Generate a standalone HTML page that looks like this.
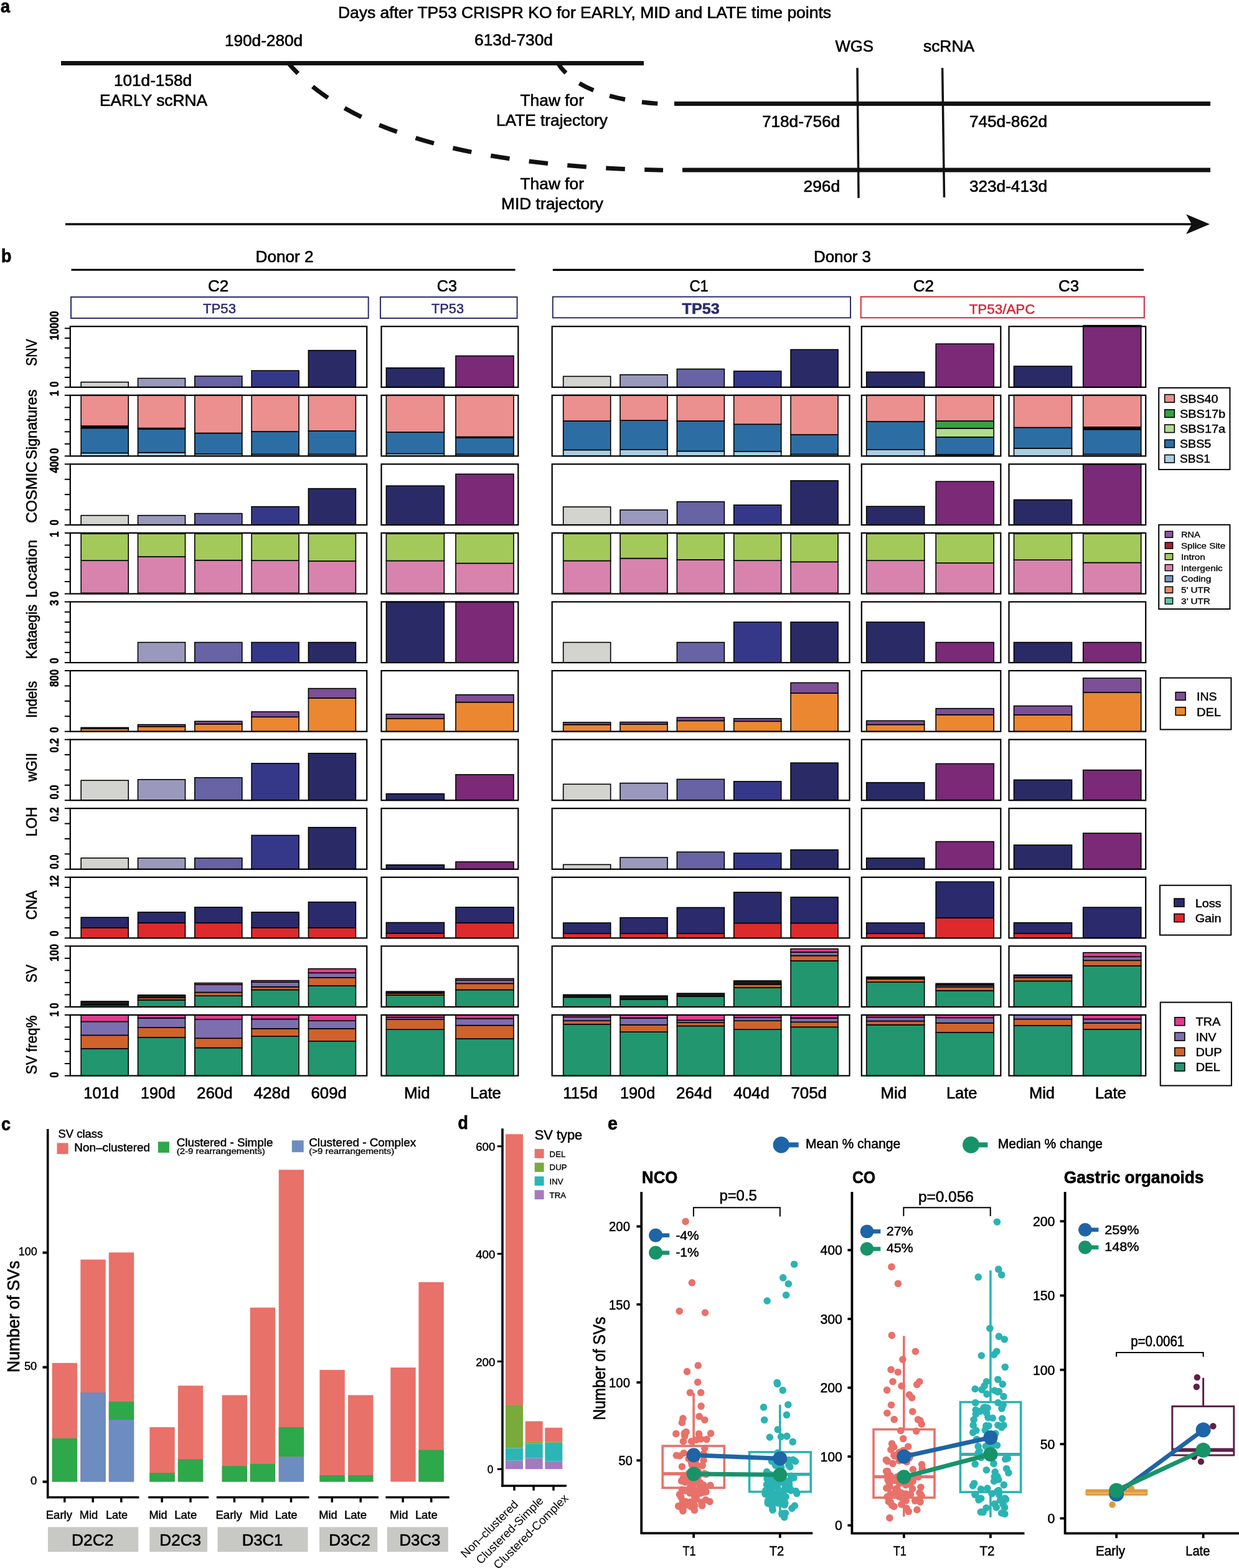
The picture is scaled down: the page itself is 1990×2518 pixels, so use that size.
<!DOCTYPE html>
<html><head><meta charset="utf-8"><title>Figure</title><style>html,body{margin:0;padding:0;background:#fff;}svg{display:block;}</style></head><body>
<svg width="1990" height="2518" viewBox="0 0 1990 2518" font-family="'Liberation Sans', Arial, sans-serif">
<rect x="0" y="0" width="1990" height="2518" fill="#fff"/>
<text x="1.1" y="20.4" font-size="30" font-weight="bold" fill="#000" stroke="#000" stroke-width="0.75" textLength="15.02" lengthAdjust="spacingAndGlyphs">a</text>
<text x="543" y="28.8" font-size="25" fill="#000" stroke="#000" stroke-width="0.62" textLength="791.99" lengthAdjust="spacingAndGlyphs">Days after TP53 CRISPR KO for EARLY, MID and LATE time points</text>
<text x="361" y="74" font-size="25" fill="#000" stroke="#000" stroke-width="0.62" textLength="125.01" lengthAdjust="spacingAndGlyphs">190d-280d</text>
<text x="762" y="73" font-size="25" fill="#000" stroke="#000" stroke-width="0.62" textLength="126.01" lengthAdjust="spacingAndGlyphs">613d-730d</text>
<text x="1341.5" y="83" font-size="25" fill="#000" stroke="#000" stroke-width="0.62" textLength="61.49" lengthAdjust="spacingAndGlyphs">WGS</text>
<text x="1483" y="83" font-size="25" fill="#000" stroke="#000" stroke-width="0.62" textLength="82.01" lengthAdjust="spacingAndGlyphs">scRNA</text>
<text x="183" y="138" font-size="25" fill="#000" stroke="#000" stroke-width="0.62" textLength="125.01" lengthAdjust="spacingAndGlyphs">101d-158d</text>
<text x="160" y="170" font-size="25" fill="#000" stroke="#000" stroke-width="0.62" textLength="173.01" lengthAdjust="spacingAndGlyphs">EARLY scRNA</text>
<text x="835.5" y="170" font-size="25" fill="#000" stroke="#000" stroke-width="0.62" textLength="102.5" lengthAdjust="spacingAndGlyphs">Thaw for</text>
<text x="797" y="201.5" font-size="25" fill="#000" stroke="#000" stroke-width="0.62" textLength="179" lengthAdjust="spacingAndGlyphs">LATE trajectory</text>
<text x="1224" y="204" font-size="25" fill="#000" stroke="#000" stroke-width="0.62" textLength="125.01" lengthAdjust="spacingAndGlyphs">718d-756d</text>
<text x="1557" y="204" font-size="25" fill="#000" stroke="#000" stroke-width="0.62" textLength="125.01" lengthAdjust="spacingAndGlyphs">745d-862d</text>
<text x="835.5" y="304" font-size="25" fill="#000" stroke="#000" stroke-width="0.62" textLength="102.5" lengthAdjust="spacingAndGlyphs">Thaw for</text>
<text x="805" y="336" font-size="25" fill="#000" stroke="#000" stroke-width="0.62" textLength="164" lengthAdjust="spacingAndGlyphs">MID trajectory</text>
<text x="1290.6" y="308" font-size="25" fill="#000" stroke="#000" stroke-width="0.62" textLength="58.39" lengthAdjust="spacingAndGlyphs">296d</text>
<text x="1557" y="308" font-size="25" fill="#000" stroke="#000" stroke-width="0.62" textLength="125.01" lengthAdjust="spacingAndGlyphs">323d-413d</text>
<path d="M462,100 C587.4,248.5 881.8,269.6 1065,273.3" fill="none" stroke="#111" stroke-width="7" stroke-dasharray="30.5 31.5" stroke-dashoffset="5.9"/>
<path d="M895,100 C925.3,149.9 1006.2,163 1058,166.5" fill="none" stroke="#111" stroke-width="7" stroke-dasharray="25.5 27.2" stroke-dashoffset="3.2"/>
<line x1="98" y1="101.5" x2="1034" y2="101.5" stroke="#111" stroke-width="7"/>
<line x1="1083" y1="166.5" x2="1944" y2="166.5" stroke="#111" stroke-width="7"/>
<line x1="1096" y1="273" x2="1944" y2="273" stroke="#111" stroke-width="7"/>
<line x1="1377" y1="109" x2="1379" y2="318" stroke="#111" stroke-width="3.5"/>
<line x1="1513.6" y1="109" x2="1516.5" y2="317" stroke="#111" stroke-width="3.5"/>
<line x1="105" y1="360" x2="1915" y2="360" stroke="#111" stroke-width="3.5"/>
<path d="M1943,360 L1905,344 L1914,360 L1905,376 Z" fill="#111"/>
<text x="1.9" y="420.7" font-size="30" font-weight="bold" fill="#000" stroke="#000" stroke-width="0.75" textLength="16.4" lengthAdjust="spacingAndGlyphs">b</text>
<text x="410.6" y="421" font-size="26" fill="#000" stroke="#000" stroke-width="0.65" textLength="92.99" lengthAdjust="spacingAndGlyphs">Donor 2</text>
<line x1="114.5" y1="433.2" x2="827.6" y2="433.2" stroke="#000" stroke-width="3.1"/>
<text x="1307" y="421" font-size="26" fill="#000" stroke="#000" stroke-width="0.65" textLength="91.99" lengthAdjust="spacingAndGlyphs">Donor 3</text>
<line x1="887.8" y1="433.4" x2="1837" y2="433.4" stroke="#000" stroke-width="3.1"/>
<text x="334" y="468" font-size="26" fill="#000" stroke="#000" stroke-width="0.65" textLength="33.01" lengthAdjust="spacingAndGlyphs">C2</text>
<text x="701.7" y="468" font-size="26" fill="#000" stroke="#000" stroke-width="0.65" textLength="32.31" lengthAdjust="spacingAndGlyphs">C3</text>
<text x="1107.4" y="468" font-size="26" fill="#000" stroke="#000" stroke-width="0.65" textLength="30.51" lengthAdjust="spacingAndGlyphs">C1</text>
<text x="1466.7" y="468" font-size="26" fill="#000" stroke="#000" stroke-width="0.65" textLength="33.11" lengthAdjust="spacingAndGlyphs">C2</text>
<text x="1700" y="468" font-size="26" fill="#000" stroke="#000" stroke-width="0.65" textLength="33.01" lengthAdjust="spacingAndGlyphs">C3</text>
<rect x="114" y="477" width="477.7" height="34" fill="none" stroke="#2c2e6c" stroke-width="2"/>
<rect x="611" y="477" width="219.6" height="34" fill="none" stroke="#2c2e6c" stroke-width="2"/>
<rect x="887.8" y="476.6" width="478.2" height="33.7" fill="none" stroke="#2c2e6c" stroke-width="2"/>
<rect x="1382.7" y="476.6" width="455.1" height="33.7" fill="none" stroke="#d3283a" stroke-width="2"/>
<text x="326" y="503" font-size="22" fill="#2c2e6c" stroke="#2c2e6c" stroke-width="0.55" textLength="53" lengthAdjust="spacingAndGlyphs">TP53</text>
<text x="693" y="503" font-size="22" fill="#2c2e6c" stroke="#2c2e6c" stroke-width="0.55" textLength="52" lengthAdjust="spacingAndGlyphs">TP53</text>
<text x="1095.5" y="503.7" font-size="23" font-weight="bold" fill="#2c2e6c" stroke="#2c2e6c" stroke-width="0.57" textLength="60.2" lengthAdjust="spacingAndGlyphs">TP53</text>
<text x="1556.7" y="503.7" font-size="22" fill="#d3283a" stroke="#d3283a" stroke-width="0.55" textLength="105.8" lengthAdjust="spacingAndGlyphs">TP53/APC</text>
<rect x="130.2" y="613.6" width="76" height="8.2" fill="#d3d3cf" stroke="#000" stroke-width="1.6"/>
<rect x="221.5" y="607.5" width="76" height="14.3" fill="#9a99bd" stroke="#000" stroke-width="1.6"/>
<rect x="312.8" y="604" width="76" height="17.8" fill="#6763a4" stroke="#000" stroke-width="1.6"/>
<rect x="404.1" y="595.2" width="76" height="26.6" fill="#353889" stroke="#000" stroke-width="1.6"/>
<rect x="495.4" y="562.7" width="76" height="59.1" fill="#2a2a66" stroke="#000" stroke-width="1.6"/>
<rect x="620.4" y="590.8" width="93" height="31" fill="#2a2a66" stroke="#000" stroke-width="1.6"/>
<rect x="732" y="571.5" width="93" height="50.3" fill="#7a2a77" stroke="#000" stroke-width="1.6"/>
<rect x="904.7" y="604.4" width="76" height="17.4" fill="#d3d3cf" stroke="#000" stroke-width="1.6"/>
<rect x="996.03" y="601.8" width="76" height="20" fill="#9a99bd" stroke="#000" stroke-width="1.6"/>
<rect x="1087.36" y="592.6" width="76" height="29.2" fill="#6763a4" stroke="#000" stroke-width="1.6"/>
<rect x="1178.69" y="596" width="76" height="25.8" fill="#353889" stroke="#000" stroke-width="1.6"/>
<rect x="1270.02" y="561.4" width="76" height="60.4" fill="#2a2a66" stroke="#000" stroke-width="1.6"/>
<rect x="1391.7" y="597.4" width="93" height="24.4" fill="#2a2a66" stroke="#000" stroke-width="1.6"/>
<rect x="1503.2" y="552.2" width="93" height="69.6" fill="#7a2a77" stroke="#000" stroke-width="1.6"/>
<rect x="1628.5" y="588.1" width="93" height="33.7" fill="#2a2a66" stroke="#000" stroke-width="1.6"/>
<rect x="1739.7" y="522.6" width="93" height="99.2" fill="#7a2a77" stroke="#000" stroke-width="1.6"/>
<rect x="130.2" y="727.5" width="76" height="4.87" fill="#a9cfe0" stroke="#000" stroke-width="1.6"/>
<rect x="130.2" y="687.5" width="76" height="40" fill="#2c6ea4" stroke="#000" stroke-width="1.6"/>
<rect x="130.2" y="684" width="76" height="3.5" fill="#000" stroke="#000" stroke-width="1.6"/>
<rect x="130.2" y="634.5" width="76" height="49.5" fill="#ec8f8f" stroke="#000" stroke-width="1.6"/>
<rect x="221.5" y="726.8" width="76" height="5.57" fill="#a9cfe0" stroke="#000" stroke-width="1.6"/>
<rect x="221.5" y="689" width="76" height="37.8" fill="#2c6ea4" stroke="#000" stroke-width="1.6"/>
<rect x="221.5" y="687.5" width="76" height="1.5" fill="#000" stroke="#000" stroke-width="1.6"/>
<rect x="221.5" y="634.5" width="76" height="53" fill="#ec8f8f" stroke="#000" stroke-width="1.6"/>
<rect x="312.8" y="729" width="76" height="3.37" fill="#a9cfe0" stroke="#000" stroke-width="1.6"/>
<rect x="312.8" y="695.5" width="76" height="33.5" fill="#2c6ea4" stroke="#000" stroke-width="1.6"/>
<rect x="312.8" y="634.5" width="76" height="61" fill="#ec8f8f" stroke="#000" stroke-width="1.6"/>
<rect x="404.1" y="729.5" width="76" height="2.87" fill="#a9cfe0" stroke="#000" stroke-width="1.6"/>
<rect x="404.1" y="693" width="76" height="36.5" fill="#2c6ea4" stroke="#000" stroke-width="1.6"/>
<rect x="404.1" y="634.5" width="76" height="58.5" fill="#ec8f8f" stroke="#000" stroke-width="1.6"/>
<rect x="495.4" y="729.5" width="76" height="2.87" fill="#a9cfe0" stroke="#000" stroke-width="1.6"/>
<rect x="495.4" y="692" width="76" height="37.5" fill="#2c6ea4" stroke="#000" stroke-width="1.6"/>
<rect x="495.4" y="634.5" width="76" height="57.5" fill="#ec8f8f" stroke="#000" stroke-width="1.6"/>
<rect x="620.4" y="728.5" width="93" height="3.87" fill="#a9cfe0" stroke="#000" stroke-width="1.6"/>
<rect x="620.4" y="694" width="93" height="34.5" fill="#2c6ea4" stroke="#000" stroke-width="1.6"/>
<rect x="620.4" y="634.5" width="93" height="59.5" fill="#ec8f8f" stroke="#000" stroke-width="1.6"/>
<rect x="732" y="729.5" width="93" height="2.87" fill="#a9cfe0" stroke="#000" stroke-width="1.6"/>
<rect x="732" y="703" width="93" height="26.5" fill="#2c6ea4" stroke="#000" stroke-width="1.6"/>
<rect x="732" y="701.5" width="93" height="1.5" fill="#000" stroke="#000" stroke-width="1.6"/>
<rect x="732" y="634.5" width="93" height="67" fill="#ec8f8f" stroke="#000" stroke-width="1.6"/>
<rect x="904.7" y="722.5" width="76" height="9.87" fill="#a9cfe0" stroke="#000" stroke-width="1.6"/>
<rect x="904.7" y="676" width="76" height="46.5" fill="#2c6ea4" stroke="#000" stroke-width="1.6"/>
<rect x="904.7" y="634.5" width="76" height="41.5" fill="#ec8f8f" stroke="#000" stroke-width="1.6"/>
<rect x="996.03" y="722" width="76" height="10.37" fill="#a9cfe0" stroke="#000" stroke-width="1.6"/>
<rect x="996.03" y="675.1" width="76" height="46.9" fill="#2c6ea4" stroke="#000" stroke-width="1.6"/>
<rect x="996.03" y="634.5" width="76" height="40.6" fill="#ec8f8f" stroke="#000" stroke-width="1.6"/>
<rect x="1087.36" y="724.5" width="76" height="7.87" fill="#a9cfe0" stroke="#000" stroke-width="1.6"/>
<rect x="1087.36" y="676" width="76" height="48.5" fill="#2c6ea4" stroke="#000" stroke-width="1.6"/>
<rect x="1087.36" y="634.5" width="76" height="41.5" fill="#ec8f8f" stroke="#000" stroke-width="1.6"/>
<rect x="1178.69" y="725" width="76" height="7.37" fill="#a9cfe0" stroke="#000" stroke-width="1.6"/>
<rect x="1178.69" y="681.3" width="76" height="43.7" fill="#2c6ea4" stroke="#000" stroke-width="1.6"/>
<rect x="1178.69" y="634.5" width="76" height="46.8" fill="#ec8f8f" stroke="#000" stroke-width="1.6"/>
<rect x="1270.02" y="729.5" width="76" height="2.87" fill="#a9cfe0" stroke="#000" stroke-width="1.6"/>
<rect x="1270.02" y="698" width="76" height="31.5" fill="#2c6ea4" stroke="#000" stroke-width="1.6"/>
<rect x="1270.02" y="634.5" width="76" height="63.5" fill="#ec8f8f" stroke="#000" stroke-width="1.6"/>
<rect x="1391.7" y="722" width="93" height="10.37" fill="#a9cfe0" stroke="#000" stroke-width="1.6"/>
<rect x="1391.7" y="676.9" width="93" height="45.1" fill="#2c6ea4" stroke="#000" stroke-width="1.6"/>
<rect x="1391.7" y="634.5" width="93" height="42.4" fill="#ec8f8f" stroke="#000" stroke-width="1.6"/>
<rect x="1503.2" y="730" width="93" height="2.37" fill="#a9cfe0" stroke="#000" stroke-width="1.6"/>
<rect x="1503.2" y="701.9" width="93" height="28.1" fill="#2c6ea4" stroke="#000" stroke-width="1.6"/>
<rect x="1503.2" y="687.8" width="93" height="14.1" fill="#b1dc8d" stroke="#000" stroke-width="1.6"/>
<rect x="1503.2" y="676" width="93" height="11.8" fill="#36a043" stroke="#000" stroke-width="1.6"/>
<rect x="1503.2" y="634.5" width="93" height="41.5" fill="#ec8f8f" stroke="#000" stroke-width="1.6"/>
<rect x="1628.5" y="720" width="93" height="12.37" fill="#a9cfe0" stroke="#000" stroke-width="1.6"/>
<rect x="1628.5" y="686.5" width="93" height="33.5" fill="#2c6ea4" stroke="#000" stroke-width="1.6"/>
<rect x="1628.5" y="634.5" width="93" height="52" fill="#ec8f8f" stroke="#000" stroke-width="1.6"/>
<rect x="1739.7" y="729.5" width="93" height="2.87" fill="#a9cfe0" stroke="#000" stroke-width="1.6"/>
<rect x="1739.7" y="689.7" width="93" height="39.8" fill="#2c6ea4" stroke="#000" stroke-width="1.6"/>
<rect x="1739.7" y="685.8" width="93" height="3.9" fill="#000" stroke="#000" stroke-width="1.6"/>
<rect x="1739.7" y="634.5" width="93" height="51.3" fill="#ec8f8f" stroke="#000" stroke-width="1.6"/>
<rect x="130.2" y="827.7" width="76" height="15.24" fill="#d3d3cf" stroke="#000" stroke-width="1.6"/>
<rect x="221.5" y="827.7" width="76" height="15.24" fill="#9a99bd" stroke="#000" stroke-width="1.6"/>
<rect x="312.8" y="824.6" width="76" height="18.34" fill="#6763a4" stroke="#000" stroke-width="1.6"/>
<rect x="404.1" y="813.6" width="76" height="29.34" fill="#353889" stroke="#000" stroke-width="1.6"/>
<rect x="495.4" y="784.6" width="76" height="58.34" fill="#2a2a66" stroke="#000" stroke-width="1.6"/>
<rect x="620.4" y="780.2" width="93" height="62.74" fill="#2a2a66" stroke="#000" stroke-width="1.6"/>
<rect x="732" y="761.3" width="93" height="81.64" fill="#7a2a77" stroke="#000" stroke-width="1.6"/>
<rect x="904.7" y="814" width="76" height="28.94" fill="#d3d3cf" stroke="#000" stroke-width="1.6"/>
<rect x="996.03" y="818.9" width="76" height="24.04" fill="#9a99bd" stroke="#000" stroke-width="1.6"/>
<rect x="1087.36" y="805.7" width="76" height="37.24" fill="#6763a4" stroke="#000" stroke-width="1.6"/>
<rect x="1178.69" y="811" width="76" height="31.94" fill="#353889" stroke="#000" stroke-width="1.6"/>
<rect x="1270.02" y="771.9" width="76" height="71.04" fill="#2a2a66" stroke="#000" stroke-width="1.6"/>
<rect x="1391.7" y="813.2" width="93" height="29.74" fill="#2a2a66" stroke="#000" stroke-width="1.6"/>
<rect x="1503.2" y="773.2" width="93" height="69.74" fill="#7a2a77" stroke="#000" stroke-width="1.6"/>
<rect x="1628.5" y="802.6" width="93" height="40.34" fill="#2a2a66" stroke="#000" stroke-width="1.6"/>
<rect x="1739.7" y="745.3" width="93" height="97.64" fill="#7a2a77" stroke="#000" stroke-width="1.6"/>
<rect x="130.2" y="952.31" width="76" height="1.2" fill="#333" stroke="#000" stroke-width="1.6"/>
<rect x="130.2" y="900.1" width="76" height="52.21" fill="#d883ad" stroke="#000" stroke-width="1.6"/>
<rect x="130.2" y="857.11" width="76" height="42.99" fill="#a3c95b" stroke="#000" stroke-width="1.6"/>
<rect x="130.2" y="855.91" width="76" height="1.2" fill="#222" stroke="#000" stroke-width="1.6"/>
<rect x="221.5" y="952.31" width="76" height="1.2" fill="#333" stroke="#000" stroke-width="1.6"/>
<rect x="221.5" y="894" width="76" height="58.31" fill="#d883ad" stroke="#000" stroke-width="1.6"/>
<rect x="221.5" y="857.11" width="76" height="36.89" fill="#a3c95b" stroke="#000" stroke-width="1.6"/>
<rect x="221.5" y="855.91" width="76" height="1.2" fill="#222" stroke="#000" stroke-width="1.6"/>
<rect x="312.8" y="952.31" width="76" height="1.2" fill="#333" stroke="#000" stroke-width="1.6"/>
<rect x="312.8" y="899.7" width="76" height="52.61" fill="#d883ad" stroke="#000" stroke-width="1.6"/>
<rect x="312.8" y="857.11" width="76" height="42.59" fill="#a3c95b" stroke="#000" stroke-width="1.6"/>
<rect x="312.8" y="855.91" width="76" height="1.2" fill="#222" stroke="#000" stroke-width="1.6"/>
<rect x="404.1" y="952.31" width="76" height="1.2" fill="#333" stroke="#000" stroke-width="1.6"/>
<rect x="404.1" y="900.1" width="76" height="52.21" fill="#d883ad" stroke="#000" stroke-width="1.6"/>
<rect x="404.1" y="857.11" width="76" height="42.99" fill="#a3c95b" stroke="#000" stroke-width="1.6"/>
<rect x="404.1" y="855.91" width="76" height="1.2" fill="#222" stroke="#000" stroke-width="1.6"/>
<rect x="495.4" y="952.31" width="76" height="1.2" fill="#333" stroke="#000" stroke-width="1.6"/>
<rect x="495.4" y="901" width="76" height="51.31" fill="#d883ad" stroke="#000" stroke-width="1.6"/>
<rect x="495.4" y="857.11" width="76" height="43.89" fill="#a3c95b" stroke="#000" stroke-width="1.6"/>
<rect x="495.4" y="855.91" width="76" height="1.2" fill="#222" stroke="#000" stroke-width="1.6"/>
<rect x="620.4" y="952.31" width="93" height="1.2" fill="#333" stroke="#000" stroke-width="1.6"/>
<rect x="620.4" y="900.5" width="93" height="51.81" fill="#d883ad" stroke="#000" stroke-width="1.6"/>
<rect x="620.4" y="857.11" width="93" height="43.39" fill="#a3c95b" stroke="#000" stroke-width="1.6"/>
<rect x="620.4" y="855.91" width="93" height="1.2" fill="#222" stroke="#000" stroke-width="1.6"/>
<rect x="732" y="952.31" width="93" height="1.2" fill="#333" stroke="#000" stroke-width="1.6"/>
<rect x="732" y="904.5" width="93" height="47.81" fill="#d883ad" stroke="#000" stroke-width="1.6"/>
<rect x="732" y="857.11" width="93" height="47.39" fill="#a3c95b" stroke="#000" stroke-width="1.6"/>
<rect x="732" y="855.91" width="93" height="1.2" fill="#222" stroke="#000" stroke-width="1.6"/>
<rect x="904.7" y="952.31" width="76" height="1.2" fill="#333" stroke="#000" stroke-width="1.6"/>
<rect x="904.7" y="900.5" width="76" height="51.81" fill="#d883ad" stroke="#000" stroke-width="1.6"/>
<rect x="904.7" y="857.11" width="76" height="43.39" fill="#a3c95b" stroke="#000" stroke-width="1.6"/>
<rect x="904.7" y="855.91" width="76" height="1.2" fill="#222" stroke="#000" stroke-width="1.6"/>
<rect x="996.03" y="952.31" width="76" height="1.2" fill="#333" stroke="#000" stroke-width="1.6"/>
<rect x="996.03" y="896.6" width="76" height="55.71" fill="#d883ad" stroke="#000" stroke-width="1.6"/>
<rect x="996.03" y="857.11" width="76" height="39.49" fill="#a3c95b" stroke="#000" stroke-width="1.6"/>
<rect x="996.03" y="855.91" width="76" height="1.2" fill="#222" stroke="#000" stroke-width="1.6"/>
<rect x="1087.36" y="952.31" width="76" height="1.2" fill="#333" stroke="#000" stroke-width="1.6"/>
<rect x="1087.36" y="898.8" width="76" height="53.51" fill="#d883ad" stroke="#000" stroke-width="1.6"/>
<rect x="1087.36" y="857.11" width="76" height="41.69" fill="#a3c95b" stroke="#000" stroke-width="1.6"/>
<rect x="1087.36" y="855.91" width="76" height="1.2" fill="#222" stroke="#000" stroke-width="1.6"/>
<rect x="1178.69" y="952.31" width="76" height="1.2" fill="#333" stroke="#000" stroke-width="1.6"/>
<rect x="1178.69" y="900.1" width="76" height="52.21" fill="#d883ad" stroke="#000" stroke-width="1.6"/>
<rect x="1178.69" y="857.11" width="76" height="42.99" fill="#a3c95b" stroke="#000" stroke-width="1.6"/>
<rect x="1178.69" y="855.91" width="76" height="1.2" fill="#222" stroke="#000" stroke-width="1.6"/>
<rect x="1270.02" y="952.31" width="76" height="1.2" fill="#333" stroke="#000" stroke-width="1.6"/>
<rect x="1270.02" y="902.3" width="76" height="50.01" fill="#d883ad" stroke="#000" stroke-width="1.6"/>
<rect x="1270.02" y="857.11" width="76" height="45.19" fill="#a3c95b" stroke="#000" stroke-width="1.6"/>
<rect x="1270.02" y="855.91" width="76" height="1.2" fill="#222" stroke="#000" stroke-width="1.6"/>
<rect x="1391.7" y="952.31" width="93" height="1.2" fill="#333" stroke="#000" stroke-width="1.6"/>
<rect x="1391.7" y="900.1" width="93" height="52.21" fill="#d883ad" stroke="#000" stroke-width="1.6"/>
<rect x="1391.7" y="857.11" width="93" height="42.99" fill="#a3c95b" stroke="#000" stroke-width="1.6"/>
<rect x="1391.7" y="855.91" width="93" height="1.2" fill="#222" stroke="#000" stroke-width="1.6"/>
<rect x="1503.2" y="952.31" width="93" height="1.2" fill="#333" stroke="#000" stroke-width="1.6"/>
<rect x="1503.2" y="904.1" width="93" height="48.21" fill="#d883ad" stroke="#000" stroke-width="1.6"/>
<rect x="1503.2" y="857.11" width="93" height="46.99" fill="#a3c95b" stroke="#000" stroke-width="1.6"/>
<rect x="1503.2" y="855.91" width="93" height="1.2" fill="#222" stroke="#000" stroke-width="1.6"/>
<rect x="1628.5" y="952.31" width="93" height="1.2" fill="#333" stroke="#000" stroke-width="1.6"/>
<rect x="1628.5" y="899.2" width="93" height="53.11" fill="#d883ad" stroke="#000" stroke-width="1.6"/>
<rect x="1628.5" y="857.11" width="93" height="42.09" fill="#a3c95b" stroke="#000" stroke-width="1.6"/>
<rect x="1628.5" y="855.91" width="93" height="1.2" fill="#222" stroke="#000" stroke-width="1.6"/>
<rect x="1739.7" y="952.31" width="93" height="1.2" fill="#333" stroke="#000" stroke-width="1.6"/>
<rect x="1739.7" y="903.5" width="93" height="48.81" fill="#d883ad" stroke="#000" stroke-width="1.6"/>
<rect x="1739.7" y="857.11" width="93" height="46.39" fill="#a3c95b" stroke="#000" stroke-width="1.6"/>
<rect x="1739.7" y="855.91" width="93" height="1.2" fill="#222" stroke="#000" stroke-width="1.6"/>
<rect x="221.5" y="1031.55" width="76" height="32.53" fill="#9a99bd" stroke="#000" stroke-width="1.6"/>
<rect x="312.8" y="1031.55" width="76" height="32.53" fill="#6763a4" stroke="#000" stroke-width="1.6"/>
<rect x="404.1" y="1031.55" width="76" height="32.53" fill="#353889" stroke="#000" stroke-width="1.6"/>
<rect x="495.4" y="1031.55" width="76" height="32.53" fill="#2a2a66" stroke="#000" stroke-width="1.6"/>
<rect x="620.4" y="966.48" width="93" height="97.6" fill="#2a2a66" stroke="#000" stroke-width="1.6"/>
<rect x="732" y="966.48" width="93" height="97.6" fill="#7a2a77" stroke="#000" stroke-width="1.6"/>
<rect x="904.7" y="1031.55" width="76" height="32.53" fill="#d3d3cf" stroke="#000" stroke-width="1.6"/>
<rect x="1087.36" y="1031.55" width="76" height="32.53" fill="#6763a4" stroke="#000" stroke-width="1.6"/>
<rect x="1178.69" y="999.01" width="76" height="65.07" fill="#353889" stroke="#000" stroke-width="1.6"/>
<rect x="1270.02" y="999.01" width="76" height="65.07" fill="#2a2a66" stroke="#000" stroke-width="1.6"/>
<rect x="1391.7" y="999.01" width="93" height="65.07" fill="#2a2a66" stroke="#000" stroke-width="1.6"/>
<rect x="1503.2" y="1031.55" width="93" height="32.53" fill="#7a2a77" stroke="#000" stroke-width="1.6"/>
<rect x="1628.5" y="1031.55" width="93" height="32.53" fill="#2a2a66" stroke="#000" stroke-width="1.6"/>
<rect x="1739.7" y="1031.55" width="93" height="32.53" fill="#7a2a77" stroke="#000" stroke-width="1.6"/>
<rect x="130.2" y="1170.2" width="76" height="4.45" fill="#ec8731" stroke="#000" stroke-width="1.6"/>
<rect x="130.2" y="1168.4" width="76" height="1.8" fill="#7d4f96" stroke="#000" stroke-width="1.6"/>
<rect x="221.5" y="1166.7" width="76" height="7.95" fill="#ec8731" stroke="#000" stroke-width="1.6"/>
<rect x="221.5" y="1163.6" width="76" height="3.1" fill="#7d4f96" stroke="#000" stroke-width="1.6"/>
<rect x="312.8" y="1162.7" width="76" height="11.95" fill="#ec8731" stroke="#000" stroke-width="1.6"/>
<rect x="312.8" y="1158.3" width="76" height="4.4" fill="#7d4f96" stroke="#000" stroke-width="1.6"/>
<rect x="404.1" y="1151.3" width="76" height="23.35" fill="#ec8731" stroke="#000" stroke-width="1.6"/>
<rect x="404.1" y="1143" width="76" height="8.3" fill="#7d4f96" stroke="#000" stroke-width="1.6"/>
<rect x="495.4" y="1121" width="76" height="53.65" fill="#ec8731" stroke="#000" stroke-width="1.6"/>
<rect x="495.4" y="1105.6" width="76" height="15.4" fill="#7d4f96" stroke="#000" stroke-width="1.6"/>
<rect x="620.4" y="1153.9" width="93" height="20.75" fill="#ec8731" stroke="#000" stroke-width="1.6"/>
<rect x="620.4" y="1146.9" width="93" height="7" fill="#7d4f96" stroke="#000" stroke-width="1.6"/>
<rect x="732" y="1127.6" width="93" height="47.05" fill="#ec8731" stroke="#000" stroke-width="1.6"/>
<rect x="732" y="1115.7" width="93" height="11.9" fill="#7d4f96" stroke="#000" stroke-width="1.6"/>
<rect x="904.7" y="1163.6" width="76" height="11.05" fill="#ec8731" stroke="#000" stroke-width="1.6"/>
<rect x="904.7" y="1160" width="76" height="3.6" fill="#7d4f96" stroke="#000" stroke-width="1.6"/>
<rect x="996.03" y="1163.1" width="76" height="11.55" fill="#ec8731" stroke="#000" stroke-width="1.6"/>
<rect x="996.03" y="1159.6" width="76" height="3.5" fill="#7d4f96" stroke="#000" stroke-width="1.6"/>
<rect x="1087.36" y="1157.4" width="76" height="17.25" fill="#ec8731" stroke="#000" stroke-width="1.6"/>
<rect x="1087.36" y="1152.2" width="76" height="5.2" fill="#7d4f96" stroke="#000" stroke-width="1.6"/>
<rect x="1178.69" y="1158.3" width="76" height="16.35" fill="#ec8731" stroke="#000" stroke-width="1.6"/>
<rect x="1178.69" y="1153.9" width="76" height="4.4" fill="#7d4f96" stroke="#000" stroke-width="1.6"/>
<rect x="1270.02" y="1113.1" width="76" height="61.55" fill="#ec8731" stroke="#000" stroke-width="1.6"/>
<rect x="1270.02" y="1096.4" width="76" height="16.7" fill="#7d4f96" stroke="#000" stroke-width="1.6"/>
<rect x="1391.7" y="1163.6" width="93" height="11.05" fill="#ec8731" stroke="#000" stroke-width="1.6"/>
<rect x="1391.7" y="1157.4" width="93" height="6.2" fill="#7d4f96" stroke="#000" stroke-width="1.6"/>
<rect x="1503.2" y="1147.8" width="93" height="26.85" fill="#ec8731" stroke="#000" stroke-width="1.6"/>
<rect x="1503.2" y="1137.7" width="93" height="10.1" fill="#7d4f96" stroke="#000" stroke-width="1.6"/>
<rect x="1628.5" y="1148" width="93" height="26.65" fill="#ec8731" stroke="#000" stroke-width="1.6"/>
<rect x="1628.5" y="1133.6" width="93" height="14.4" fill="#7d4f96" stroke="#000" stroke-width="1.6"/>
<rect x="1739.7" y="1111.9" width="93" height="62.75" fill="#ec8731" stroke="#000" stroke-width="1.6"/>
<rect x="1739.7" y="1089" width="93" height="22.9" fill="#7d4f96" stroke="#000" stroke-width="1.6"/>
<rect x="130.2" y="1253.2" width="76" height="32.02" fill="#d3d3cf" stroke="#000" stroke-width="1.6"/>
<rect x="221.5" y="1251.8" width="76" height="33.42" fill="#9a99bd" stroke="#000" stroke-width="1.6"/>
<rect x="312.8" y="1248.8" width="76" height="36.42" fill="#6763a4" stroke="#000" stroke-width="1.6"/>
<rect x="404.1" y="1225.9" width="76" height="59.32" fill="#353889" stroke="#000" stroke-width="1.6"/>
<rect x="495.4" y="1209.7" width="76" height="75.52" fill="#2a2a66" stroke="#000" stroke-width="1.6"/>
<rect x="620.4" y="1274.7" width="93" height="10.52" fill="#2a2a66" stroke="#000" stroke-width="1.6"/>
<rect x="732" y="1243.9" width="93" height="41.32" fill="#7a2a77" stroke="#000" stroke-width="1.6"/>
<rect x="904.7" y="1259.3" width="76" height="25.92" fill="#d3d3cf" stroke="#000" stroke-width="1.6"/>
<rect x="996.03" y="1257.6" width="76" height="27.62" fill="#9a99bd" stroke="#000" stroke-width="1.6"/>
<rect x="1087.36" y="1251.4" width="76" height="33.82" fill="#6763a4" stroke="#000" stroke-width="1.6"/>
<rect x="1178.69" y="1254.9" width="76" height="30.32" fill="#353889" stroke="#000" stroke-width="1.6"/>
<rect x="1270.02" y="1225.1" width="76" height="60.12" fill="#2a2a66" stroke="#000" stroke-width="1.6"/>
<rect x="1391.7" y="1256.7" width="93" height="28.52" fill="#2a2a66" stroke="#000" stroke-width="1.6"/>
<rect x="1503.2" y="1226.4" width="93" height="58.82" fill="#7a2a77" stroke="#000" stroke-width="1.6"/>
<rect x="1628.5" y="1252.4" width="93" height="32.82" fill="#2a2a66" stroke="#000" stroke-width="1.6"/>
<rect x="1739.7" y="1236.6" width="93" height="48.62" fill="#7a2a77" stroke="#000" stroke-width="1.6"/>
<rect x="130.2" y="1377.9" width="76" height="17.89" fill="#d3d3cf" stroke="#000" stroke-width="1.6"/>
<rect x="221.5" y="1377.9" width="76" height="17.89" fill="#9a99bd" stroke="#000" stroke-width="1.6"/>
<rect x="312.8" y="1377.9" width="76" height="17.89" fill="#6763a4" stroke="#000" stroke-width="1.6"/>
<rect x="404.1" y="1341.4" width="76" height="54.39" fill="#353889" stroke="#000" stroke-width="1.6"/>
<rect x="495.4" y="1328.7" width="76" height="67.09" fill="#2a2a66" stroke="#000" stroke-width="1.6"/>
<rect x="620.4" y="1388.9" width="93" height="6.89" fill="#2a2a66" stroke="#000" stroke-width="1.6"/>
<rect x="732" y="1384" width="93" height="11.79" fill="#7a2a77" stroke="#000" stroke-width="1.6"/>
<rect x="904.7" y="1388.4" width="76" height="7.39" fill="#d3d3cf" stroke="#000" stroke-width="1.6"/>
<rect x="996.03" y="1377" width="76" height="18.79" fill="#9a99bd" stroke="#000" stroke-width="1.6"/>
<rect x="1087.36" y="1368.2" width="76" height="27.59" fill="#6763a4" stroke="#000" stroke-width="1.6"/>
<rect x="1178.69" y="1370" width="76" height="25.79" fill="#353889" stroke="#000" stroke-width="1.6"/>
<rect x="1270.02" y="1364.7" width="76" height="31.09" fill="#2a2a66" stroke="#000" stroke-width="1.6"/>
<rect x="1391.7" y="1377.9" width="93" height="17.89" fill="#2a2a66" stroke="#000" stroke-width="1.6"/>
<rect x="1503.2" y="1351.5" width="93" height="44.29" fill="#7a2a77" stroke="#000" stroke-width="1.6"/>
<rect x="1628.5" y="1357" width="93" height="38.79" fill="#2a2a66" stroke="#000" stroke-width="1.6"/>
<rect x="1739.7" y="1338" width="93" height="57.79" fill="#7a2a77" stroke="#000" stroke-width="1.6"/>
<rect x="130.2" y="1489.8" width="76" height="16.56" fill="#dd2a2d" stroke="#000" stroke-width="1.6"/>
<rect x="130.2" y="1473.2" width="76" height="16.6" fill="#2a2a6c" stroke="#000" stroke-width="1.6"/>
<rect x="221.5" y="1482" width="76" height="24.36" fill="#dd2a2d" stroke="#000" stroke-width="1.6"/>
<rect x="221.5" y="1464.8" width="76" height="17.2" fill="#2a2a6c" stroke="#000" stroke-width="1.6"/>
<rect x="312.8" y="1482" width="76" height="24.36" fill="#dd2a2d" stroke="#000" stroke-width="1.6"/>
<rect x="312.8" y="1456.9" width="76" height="25.1" fill="#2a2a6c" stroke="#000" stroke-width="1.6"/>
<rect x="404.1" y="1489.8" width="76" height="16.56" fill="#dd2a2d" stroke="#000" stroke-width="1.6"/>
<rect x="404.1" y="1464.8" width="76" height="25" fill="#2a2a6c" stroke="#000" stroke-width="1.6"/>
<rect x="495.4" y="1489.8" width="76" height="16.56" fill="#dd2a2d" stroke="#000" stroke-width="1.6"/>
<rect x="495.4" y="1448.6" width="76" height="41.2" fill="#2a2a6c" stroke="#000" stroke-width="1.6"/>
<rect x="620.4" y="1498.6" width="93" height="7.76" fill="#dd2a2d" stroke="#000" stroke-width="1.6"/>
<rect x="620.4" y="1481.5" width="93" height="17.1" fill="#2a2a6c" stroke="#000" stroke-width="1.6"/>
<rect x="732" y="1482" width="93" height="24.36" fill="#dd2a2d" stroke="#000" stroke-width="1.6"/>
<rect x="732" y="1456.9" width="93" height="25.1" fill="#2a2a6c" stroke="#000" stroke-width="1.6"/>
<rect x="904.7" y="1499.1" width="76" height="7.26" fill="#dd2a2d" stroke="#000" stroke-width="1.6"/>
<rect x="904.7" y="1482" width="76" height="17.1" fill="#2a2a6c" stroke="#000" stroke-width="1.6"/>
<rect x="996.03" y="1499.1" width="76" height="7.26" fill="#dd2a2d" stroke="#000" stroke-width="1.6"/>
<rect x="996.03" y="1473.6" width="76" height="25.5" fill="#2a2a6c" stroke="#000" stroke-width="1.6"/>
<rect x="1087.36" y="1499.1" width="76" height="7.26" fill="#dd2a2d" stroke="#000" stroke-width="1.6"/>
<rect x="1087.36" y="1457.4" width="76" height="41.7" fill="#2a2a6c" stroke="#000" stroke-width="1.6"/>
<rect x="1178.69" y="1482.4" width="76" height="23.96" fill="#dd2a2d" stroke="#000" stroke-width="1.6"/>
<rect x="1178.69" y="1432.8" width="76" height="49.6" fill="#2a2a6c" stroke="#000" stroke-width="1.6"/>
<rect x="1270.02" y="1482.4" width="76" height="23.96" fill="#dd2a2d" stroke="#000" stroke-width="1.6"/>
<rect x="1270.02" y="1440.7" width="76" height="41.7" fill="#2a2a6c" stroke="#000" stroke-width="1.6"/>
<rect x="1391.7" y="1499.1" width="93" height="7.26" fill="#dd2a2d" stroke="#000" stroke-width="1.6"/>
<rect x="1391.7" y="1482" width="93" height="17.1" fill="#2a2a6c" stroke="#000" stroke-width="1.6"/>
<rect x="1503.2" y="1474" width="93" height="32.36" fill="#dd2a2d" stroke="#000" stroke-width="1.6"/>
<rect x="1503.2" y="1416.1" width="93" height="57.9" fill="#2a2a6c" stroke="#000" stroke-width="1.6"/>
<rect x="1628.5" y="1498.9" width="93" height="7.46" fill="#dd2a2d" stroke="#000" stroke-width="1.6"/>
<rect x="1628.5" y="1481.8" width="93" height="17.1" fill="#2a2a6c" stroke="#000" stroke-width="1.6"/>
<rect x="1739.7" y="1457.1" width="93" height="49.26" fill="#2a2a6c" stroke="#000" stroke-width="1.6"/>
<rect x="130.2" y="1614" width="76" height="2.93" fill="#21966f" stroke="#000" stroke-width="1.6"/>
<rect x="130.2" y="1608" width="76" height="6" fill="#1a1a1a" stroke="#000" stroke-width="1.6"/>
<rect x="221.5" y="1605.8" width="76" height="11.13" fill="#21966f" stroke="#000" stroke-width="1.6"/>
<rect x="221.5" y="1602.3" width="76" height="3.5" fill="#d0632c" stroke="#000" stroke-width="1.6"/>
<rect x="221.5" y="1597.9" width="76" height="4.4" fill="#1a1a1a" stroke="#000" stroke-width="1.6"/>
<rect x="312.8" y="1599.2" width="76" height="17.73" fill="#21966f" stroke="#000" stroke-width="1.6"/>
<rect x="312.8" y="1593.5" width="76" height="5.7" fill="#d0632c" stroke="#000" stroke-width="1.6"/>
<rect x="312.8" y="1581.2" width="76" height="12.3" fill="#7b6fb0" stroke="#000" stroke-width="1.6"/>
<rect x="312.8" y="1578.6" width="76" height="2.6" fill="#dd3d8d" stroke="#000" stroke-width="1.6"/>
<rect x="404.1" y="1589.5" width="76" height="27.43" fill="#21966f" stroke="#000" stroke-width="1.6"/>
<rect x="404.1" y="1584.7" width="76" height="4.8" fill="#d0632c" stroke="#000" stroke-width="1.6"/>
<rect x="404.1" y="1577.2" width="76" height="7.5" fill="#7b6fb0" stroke="#000" stroke-width="1.6"/>
<rect x="404.1" y="1574.6" width="76" height="2.6" fill="#dd3d8d" stroke="#000" stroke-width="1.6"/>
<rect x="495.4" y="1583" width="76" height="33.93" fill="#21966f" stroke="#000" stroke-width="1.6"/>
<rect x="495.4" y="1569.8" width="76" height="13.2" fill="#d0632c" stroke="#000" stroke-width="1.6"/>
<rect x="495.4" y="1562.3" width="76" height="7.5" fill="#7b6fb0" stroke="#000" stroke-width="1.6"/>
<rect x="495.4" y="1555.7" width="76" height="6.6" fill="#dd3d8d" stroke="#000" stroke-width="1.6"/>
<rect x="620.4" y="1597.9" width="93" height="19.03" fill="#21966f" stroke="#000" stroke-width="1.6"/>
<rect x="620.4" y="1595" width="93" height="2.9" fill="#d0632c" stroke="#000" stroke-width="1.6"/>
<rect x="620.4" y="1592.2" width="93" height="2.8" fill="#1a1a1a" stroke="#000" stroke-width="1.6"/>
<rect x="732" y="1589.5" width="93" height="27.43" fill="#21966f" stroke="#000" stroke-width="1.6"/>
<rect x="732" y="1579.4" width="93" height="10.1" fill="#d0632c" stroke="#000" stroke-width="1.6"/>
<rect x="732" y="1574.2" width="93" height="5.2" fill="#7b6fb0" stroke="#000" stroke-width="1.6"/>
<rect x="732" y="1571.5" width="93" height="2.7" fill="#dd3d8d" stroke="#000" stroke-width="1.6"/>
<rect x="904.7" y="1601.4" width="76" height="15.53" fill="#21966f" stroke="#000" stroke-width="1.6"/>
<rect x="904.7" y="1597.4" width="76" height="4" fill="#1a1a1a" stroke="#000" stroke-width="1.6"/>
<rect x="996.03" y="1604.9" width="76" height="12.03" fill="#21966f" stroke="#000" stroke-width="1.6"/>
<rect x="996.03" y="1599.2" width="76" height="5.7" fill="#1a1a1a" stroke="#000" stroke-width="1.6"/>
<rect x="1087.36" y="1600.1" width="76" height="16.83" fill="#21966f" stroke="#000" stroke-width="1.6"/>
<rect x="1087.36" y="1595.2" width="76" height="4.9" fill="#1a1a1a" stroke="#000" stroke-width="1.6"/>
<rect x="1178.69" y="1586" width="76" height="30.93" fill="#21966f" stroke="#000" stroke-width="1.6"/>
<rect x="1178.69" y="1580.7" width="76" height="5.3" fill="#d0632c" stroke="#000" stroke-width="1.6"/>
<rect x="1178.69" y="1575" width="76" height="5.7" fill="#1a1a1a" stroke="#000" stroke-width="1.6"/>
<rect x="1270.02" y="1543" width="76" height="73.93" fill="#21966f" stroke="#000" stroke-width="1.6"/>
<rect x="1270.02" y="1534.6" width="76" height="8.4" fill="#d0632c" stroke="#000" stroke-width="1.6"/>
<rect x="1270.02" y="1529" width="76" height="5.6" fill="#7b6fb0" stroke="#000" stroke-width="1.6"/>
<rect x="1270.02" y="1523.7" width="76" height="5.3" fill="#dd3d8d" stroke="#000" stroke-width="1.6"/>
<rect x="1391.7" y="1577.2" width="93" height="39.73" fill="#21966f" stroke="#000" stroke-width="1.6"/>
<rect x="1391.7" y="1572" width="93" height="5.2" fill="#d0632c" stroke="#000" stroke-width="1.6"/>
<rect x="1391.7" y="1568.9" width="93" height="3.1" fill="#1a1a1a" stroke="#000" stroke-width="1.6"/>
<rect x="1503.2" y="1590.8" width="93" height="26.13" fill="#21966f" stroke="#000" stroke-width="1.6"/>
<rect x="1503.2" y="1584.7" width="93" height="6.1" fill="#d0632c" stroke="#000" stroke-width="1.6"/>
<rect x="1503.2" y="1582" width="93" height="2.7" fill="#7b6fb0" stroke="#000" stroke-width="1.6"/>
<rect x="1503.2" y="1579.4" width="93" height="2.6" fill="#1a1a1a" stroke="#000" stroke-width="1.6"/>
<rect x="1628.5" y="1575.4" width="93" height="41.53" fill="#21966f" stroke="#000" stroke-width="1.6"/>
<rect x="1628.5" y="1569.7" width="93" height="5.7" fill="#d0632c" stroke="#000" stroke-width="1.6"/>
<rect x="1628.5" y="1567" width="93" height="2.7" fill="#7b6fb0" stroke="#000" stroke-width="1.6"/>
<rect x="1628.5" y="1565.6" width="93" height="1.4" fill="#1a1a1a" stroke="#000" stroke-width="1.6"/>
<rect x="1739.7" y="1551" width="93" height="65.93" fill="#21966f" stroke="#000" stroke-width="1.6"/>
<rect x="1739.7" y="1542.3" width="93" height="8.7" fill="#d0632c" stroke="#000" stroke-width="1.6"/>
<rect x="1739.7" y="1536.3" width="93" height="6" fill="#7b6fb0" stroke="#000" stroke-width="1.6"/>
<rect x="1739.7" y="1529.7" width="93" height="6.6" fill="#dd3d8d" stroke="#000" stroke-width="1.6"/>
<rect x="130.2" y="1684" width="76" height="43.5" fill="#21966f" stroke="#000" stroke-width="1.6"/>
<rect x="130.2" y="1662.4" width="76" height="21.6" fill="#d0632c" stroke="#000" stroke-width="1.6"/>
<rect x="130.2" y="1640.5" width="76" height="21.9" fill="#7b6fb0" stroke="#000" stroke-width="1.6"/>
<rect x="130.2" y="1629.9" width="76" height="10.6" fill="#dd3d8d" stroke="#000" stroke-width="1.6"/>
<rect x="221.5" y="1666" width="76" height="61.5" fill="#21966f" stroke="#000" stroke-width="1.6"/>
<rect x="221.5" y="1650.1" width="76" height="15.9" fill="#d0632c" stroke="#000" stroke-width="1.6"/>
<rect x="221.5" y="1634.8" width="76" height="15.3" fill="#7b6fb0" stroke="#000" stroke-width="1.6"/>
<rect x="221.5" y="1629.9" width="76" height="4.9" fill="#dd3d8d" stroke="#000" stroke-width="1.6"/>
<rect x="312.8" y="1682.6" width="76" height="44.9" fill="#21966f" stroke="#000" stroke-width="1.6"/>
<rect x="312.8" y="1667.3" width="76" height="15.3" fill="#d0632c" stroke="#000" stroke-width="1.6"/>
<rect x="312.8" y="1637" width="76" height="30.3" fill="#7b6fb0" stroke="#000" stroke-width="1.6"/>
<rect x="312.8" y="1629.9" width="76" height="7.1" fill="#dd3d8d" stroke="#000" stroke-width="1.6"/>
<rect x="404.1" y="1664.2" width="76" height="63.3" fill="#21966f" stroke="#000" stroke-width="1.6"/>
<rect x="404.1" y="1651.9" width="76" height="12.3" fill="#d0632c" stroke="#000" stroke-width="1.6"/>
<rect x="404.1" y="1636.5" width="76" height="15.4" fill="#7b6fb0" stroke="#000" stroke-width="1.6"/>
<rect x="404.1" y="1629.9" width="76" height="6.6" fill="#dd3d8d" stroke="#000" stroke-width="1.6"/>
<rect x="495.4" y="1672.1" width="76" height="55.4" fill="#21966f" stroke="#000" stroke-width="1.6"/>
<rect x="495.4" y="1651.9" width="76" height="20.2" fill="#d0632c" stroke="#000" stroke-width="1.6"/>
<rect x="495.4" y="1639.2" width="76" height="12.7" fill="#7b6fb0" stroke="#000" stroke-width="1.6"/>
<rect x="495.4" y="1629.9" width="76" height="9.3" fill="#dd3d8d" stroke="#000" stroke-width="1.6"/>
<rect x="620.4" y="1653.2" width="93" height="74.3" fill="#21966f" stroke="#000" stroke-width="1.6"/>
<rect x="620.4" y="1637" width="93" height="16.2" fill="#d0632c" stroke="#000" stroke-width="1.6"/>
<rect x="620.4" y="1633.5" width="93" height="3.5" fill="#7b6fb0" stroke="#000" stroke-width="1.6"/>
<rect x="620.4" y="1629.9" width="93" height="3.6" fill="#dd3d8d" stroke="#000" stroke-width="1.6"/>
<rect x="732" y="1668.1" width="93" height="59.4" fill="#21966f" stroke="#000" stroke-width="1.6"/>
<rect x="732" y="1646.6" width="93" height="21.5" fill="#d0632c" stroke="#000" stroke-width="1.6"/>
<rect x="732" y="1635.6" width="93" height="11" fill="#7b6fb0" stroke="#000" stroke-width="1.6"/>
<rect x="732" y="1629.9" width="93" height="5.7" fill="#dd3d8d" stroke="#000" stroke-width="1.6"/>
<rect x="904.7" y="1644.9" width="76" height="82.6" fill="#21966f" stroke="#000" stroke-width="1.6"/>
<rect x="904.7" y="1639.2" width="76" height="5.7" fill="#d0632c" stroke="#000" stroke-width="1.6"/>
<rect x="904.7" y="1633" width="76" height="6.2" fill="#7b6fb0" stroke="#000" stroke-width="1.6"/>
<rect x="904.7" y="1629.9" width="76" height="3.1" fill="#dd3d8d" stroke="#000" stroke-width="1.6"/>
<rect x="996.03" y="1657.2" width="76" height="70.3" fill="#21966f" stroke="#000" stroke-width="1.6"/>
<rect x="996.03" y="1645.7" width="76" height="11.5" fill="#d0632c" stroke="#000" stroke-width="1.6"/>
<rect x="996.03" y="1634.8" width="76" height="10.9" fill="#7b6fb0" stroke="#000" stroke-width="1.6"/>
<rect x="996.03" y="1629.9" width="76" height="4.9" fill="#dd3d8d" stroke="#000" stroke-width="1.6"/>
<rect x="1087.36" y="1647.5" width="76" height="80" fill="#21966f" stroke="#000" stroke-width="1.6"/>
<rect x="1087.36" y="1642.2" width="76" height="5.3" fill="#d0632c" stroke="#000" stroke-width="1.6"/>
<rect x="1087.36" y="1638.3" width="76" height="3.9" fill="#7b6fb0" stroke="#000" stroke-width="1.6"/>
<rect x="1087.36" y="1629.9" width="76" height="8.4" fill="#dd3d8d" stroke="#000" stroke-width="1.6"/>
<rect x="1178.69" y="1653.2" width="76" height="74.3" fill="#21966f" stroke="#000" stroke-width="1.6"/>
<rect x="1178.69" y="1639.2" width="76" height="14" fill="#d0632c" stroke="#000" stroke-width="1.6"/>
<rect x="1178.69" y="1633.9" width="76" height="5.3" fill="#7b6fb0" stroke="#000" stroke-width="1.6"/>
<rect x="1178.69" y="1629.9" width="76" height="4" fill="#dd3d8d" stroke="#000" stroke-width="1.6"/>
<rect x="1270.02" y="1649.3" width="76" height="78.2" fill="#21966f" stroke="#000" stroke-width="1.6"/>
<rect x="1270.02" y="1641.3" width="76" height="8" fill="#d0632c" stroke="#000" stroke-width="1.6"/>
<rect x="1270.02" y="1634.8" width="76" height="6.5" fill="#7b6fb0" stroke="#000" stroke-width="1.6"/>
<rect x="1270.02" y="1629.9" width="76" height="4.9" fill="#dd3d8d" stroke="#000" stroke-width="1.6"/>
<rect x="1391.7" y="1645.7" width="93" height="81.8" fill="#21966f" stroke="#000" stroke-width="1.6"/>
<rect x="1391.7" y="1639.6" width="93" height="6.1" fill="#d0632c" stroke="#000" stroke-width="1.6"/>
<rect x="1391.7" y="1633.4" width="93" height="6.2" fill="#7b6fb0" stroke="#000" stroke-width="1.6"/>
<rect x="1391.7" y="1629.9" width="93" height="3.5" fill="#dd3d8d" stroke="#000" stroke-width="1.6"/>
<rect x="1503.2" y="1658" width="93" height="69.5" fill="#21966f" stroke="#000" stroke-width="1.6"/>
<rect x="1503.2" y="1642.7" width="93" height="15.3" fill="#d0632c" stroke="#000" stroke-width="1.6"/>
<rect x="1503.2" y="1634.3" width="93" height="8.4" fill="#7b6fb0" stroke="#000" stroke-width="1.6"/>
<rect x="1503.2" y="1629.9" width="93" height="4.4" fill="#dd3d8d" stroke="#000" stroke-width="1.6"/>
<rect x="1628.5" y="1646.8" width="93" height="80.7" fill="#21966f" stroke="#000" stroke-width="1.6"/>
<rect x="1628.5" y="1636.5" width="93" height="10.3" fill="#d0632c" stroke="#000" stroke-width="1.6"/>
<rect x="1628.5" y="1629.9" width="93" height="6.6" fill="#7b6fb0" stroke="#000" stroke-width="1.6"/>
<rect x="1739.7" y="1653" width="93" height="74.5" fill="#21966f" stroke="#000" stroke-width="1.6"/>
<rect x="1739.7" y="1642.7" width="93" height="10.3" fill="#d0632c" stroke="#000" stroke-width="1.6"/>
<rect x="1739.7" y="1636.5" width="93" height="6.2" fill="#7b6fb0" stroke="#000" stroke-width="1.6"/>
<rect x="1739.7" y="1629.9" width="93" height="6.6" fill="#dd3d8d" stroke="#000" stroke-width="1.6"/>
<rect x="112.8" y="524.2" width="476.4" height="97.6" fill="none" stroke="#000" stroke-width="2.2"/>
<rect x="612.5" y="524.2" width="219.8" height="97.6" fill="none" stroke="#000" stroke-width="2.2"/>
<rect x="886.7" y="524.2" width="477.8" height="97.6" fill="none" stroke="#000" stroke-width="2.2"/>
<rect x="1383.8" y="524.2" width="223.5" height="97.6" fill="none" stroke="#000" stroke-width="2.2"/>
<rect x="1620.5" y="524.2" width="219.7" height="97.6" fill="none" stroke="#000" stroke-width="2.2"/>
<rect x="112.8" y="634.77" width="476.4" height="97.6" fill="none" stroke="#000" stroke-width="2.2"/>
<rect x="612.5" y="634.77" width="219.8" height="97.6" fill="none" stroke="#000" stroke-width="2.2"/>
<rect x="886.7" y="634.77" width="477.8" height="97.6" fill="none" stroke="#000" stroke-width="2.2"/>
<rect x="1383.8" y="634.77" width="223.5" height="97.6" fill="none" stroke="#000" stroke-width="2.2"/>
<rect x="1620.5" y="634.77" width="219.7" height="97.6" fill="none" stroke="#000" stroke-width="2.2"/>
<rect x="112.8" y="745.34" width="476.4" height="97.6" fill="none" stroke="#000" stroke-width="2.2"/>
<rect x="612.5" y="745.34" width="219.8" height="97.6" fill="none" stroke="#000" stroke-width="2.2"/>
<rect x="886.7" y="745.34" width="477.8" height="97.6" fill="none" stroke="#000" stroke-width="2.2"/>
<rect x="1383.8" y="745.34" width="223.5" height="97.6" fill="none" stroke="#000" stroke-width="2.2"/>
<rect x="1620.5" y="745.34" width="219.7" height="97.6" fill="none" stroke="#000" stroke-width="2.2"/>
<rect x="112.8" y="855.91" width="476.4" height="97.6" fill="none" stroke="#000" stroke-width="2.2"/>
<rect x="612.5" y="855.91" width="219.8" height="97.6" fill="none" stroke="#000" stroke-width="2.2"/>
<rect x="886.7" y="855.91" width="477.8" height="97.6" fill="none" stroke="#000" stroke-width="2.2"/>
<rect x="1383.8" y="855.91" width="223.5" height="97.6" fill="none" stroke="#000" stroke-width="2.2"/>
<rect x="1620.5" y="855.91" width="219.7" height="97.6" fill="none" stroke="#000" stroke-width="2.2"/>
<rect x="112.8" y="966.48" width="476.4" height="97.6" fill="none" stroke="#000" stroke-width="2.2"/>
<rect x="612.5" y="966.48" width="219.8" height="97.6" fill="none" stroke="#000" stroke-width="2.2"/>
<rect x="886.7" y="966.48" width="477.8" height="97.6" fill="none" stroke="#000" stroke-width="2.2"/>
<rect x="1383.8" y="966.48" width="223.5" height="97.6" fill="none" stroke="#000" stroke-width="2.2"/>
<rect x="1620.5" y="966.48" width="219.7" height="97.6" fill="none" stroke="#000" stroke-width="2.2"/>
<rect x="112.8" y="1077.05" width="476.4" height="97.6" fill="none" stroke="#000" stroke-width="2.2"/>
<rect x="612.5" y="1077.05" width="219.8" height="97.6" fill="none" stroke="#000" stroke-width="2.2"/>
<rect x="886.7" y="1077.05" width="477.8" height="97.6" fill="none" stroke="#000" stroke-width="2.2"/>
<rect x="1383.8" y="1077.05" width="223.5" height="97.6" fill="none" stroke="#000" stroke-width="2.2"/>
<rect x="1620.5" y="1077.05" width="219.7" height="97.6" fill="none" stroke="#000" stroke-width="2.2"/>
<rect x="112.8" y="1187.62" width="476.4" height="97.6" fill="none" stroke="#000" stroke-width="2.2"/>
<rect x="612.5" y="1187.62" width="219.8" height="97.6" fill="none" stroke="#000" stroke-width="2.2"/>
<rect x="886.7" y="1187.62" width="477.8" height="97.6" fill="none" stroke="#000" stroke-width="2.2"/>
<rect x="1383.8" y="1187.62" width="223.5" height="97.6" fill="none" stroke="#000" stroke-width="2.2"/>
<rect x="1620.5" y="1187.62" width="219.7" height="97.6" fill="none" stroke="#000" stroke-width="2.2"/>
<rect x="112.8" y="1298.19" width="476.4" height="97.6" fill="none" stroke="#000" stroke-width="2.2"/>
<rect x="612.5" y="1298.19" width="219.8" height="97.6" fill="none" stroke="#000" stroke-width="2.2"/>
<rect x="886.7" y="1298.19" width="477.8" height="97.6" fill="none" stroke="#000" stroke-width="2.2"/>
<rect x="1383.8" y="1298.19" width="223.5" height="97.6" fill="none" stroke="#000" stroke-width="2.2"/>
<rect x="1620.5" y="1298.19" width="219.7" height="97.6" fill="none" stroke="#000" stroke-width="2.2"/>
<rect x="112.8" y="1408.76" width="476.4" height="97.6" fill="none" stroke="#000" stroke-width="2.2"/>
<rect x="612.5" y="1408.76" width="219.8" height="97.6" fill="none" stroke="#000" stroke-width="2.2"/>
<rect x="886.7" y="1408.76" width="477.8" height="97.6" fill="none" stroke="#000" stroke-width="2.2"/>
<rect x="1383.8" y="1408.76" width="223.5" height="97.6" fill="none" stroke="#000" stroke-width="2.2"/>
<rect x="1620.5" y="1408.76" width="219.7" height="97.6" fill="none" stroke="#000" stroke-width="2.2"/>
<rect x="112.8" y="1519.33" width="476.4" height="97.6" fill="none" stroke="#000" stroke-width="2.2"/>
<rect x="612.5" y="1519.33" width="219.8" height="97.6" fill="none" stroke="#000" stroke-width="2.2"/>
<rect x="886.7" y="1519.33" width="477.8" height="97.6" fill="none" stroke="#000" stroke-width="2.2"/>
<rect x="1383.8" y="1519.33" width="223.5" height="97.6" fill="none" stroke="#000" stroke-width="2.2"/>
<rect x="1620.5" y="1519.33" width="219.7" height="97.6" fill="none" stroke="#000" stroke-width="2.2"/>
<rect x="112.8" y="1629.9" width="476.4" height="97.6" fill="none" stroke="#000" stroke-width="2.2"/>
<rect x="612.5" y="1629.9" width="219.8" height="97.6" fill="none" stroke="#000" stroke-width="2.2"/>
<rect x="886.7" y="1629.9" width="477.8" height="97.6" fill="none" stroke="#000" stroke-width="2.2"/>
<rect x="1383.8" y="1629.9" width="223.5" height="97.6" fill="none" stroke="#000" stroke-width="2.2"/>
<rect x="1620.5" y="1629.9" width="219.7" height="97.6" fill="none" stroke="#000" stroke-width="2.2"/>
<line x1="103.8" y1="621.8" x2="112.8" y2="621.8" stroke="#000" stroke-width="2"/>
<line x1="103.8" y1="606.05" x2="112.8" y2="606.05" stroke="#000" stroke-width="2"/>
<line x1="103.8" y1="590.3" x2="112.8" y2="590.3" stroke="#000" stroke-width="2"/>
<line x1="103.8" y1="574.55" x2="112.8" y2="574.55" stroke="#000" stroke-width="2"/>
<line x1="103.8" y1="558.8" x2="112.8" y2="558.8" stroke="#000" stroke-width="2"/>
<line x1="103.8" y1="543.05" x2="112.8" y2="543.05" stroke="#000" stroke-width="2"/>
<line x1="103.8" y1="527.3" x2="112.8" y2="527.3" stroke="#000" stroke-width="2"/>
<line x1="103.8" y1="732.37" x2="112.8" y2="732.37" stroke="#000" stroke-width="2"/>
<line x1="103.8" y1="712.85" x2="112.8" y2="712.85" stroke="#000" stroke-width="2"/>
<line x1="103.8" y1="693.33" x2="112.8" y2="693.33" stroke="#000" stroke-width="2"/>
<line x1="103.8" y1="673.81" x2="112.8" y2="673.81" stroke="#000" stroke-width="2"/>
<line x1="103.8" y1="654.29" x2="112.8" y2="654.29" stroke="#000" stroke-width="2"/>
<line x1="103.8" y1="634.77" x2="112.8" y2="634.77" stroke="#000" stroke-width="2"/>
<line x1="103.8" y1="842.94" x2="112.8" y2="842.94" stroke="#000" stroke-width="2"/>
<line x1="103.8" y1="818.54" x2="112.8" y2="818.54" stroke="#000" stroke-width="2"/>
<line x1="103.8" y1="794.14" x2="112.8" y2="794.14" stroke="#000" stroke-width="2"/>
<line x1="103.8" y1="769.74" x2="112.8" y2="769.74" stroke="#000" stroke-width="2"/>
<line x1="103.8" y1="745.34" x2="112.8" y2="745.34" stroke="#000" stroke-width="2"/>
<line x1="103.8" y1="953.51" x2="112.8" y2="953.51" stroke="#000" stroke-width="2"/>
<line x1="103.8" y1="933.99" x2="112.8" y2="933.99" stroke="#000" stroke-width="2"/>
<line x1="103.8" y1="914.47" x2="112.8" y2="914.47" stroke="#000" stroke-width="2"/>
<line x1="103.8" y1="894.95" x2="112.8" y2="894.95" stroke="#000" stroke-width="2"/>
<line x1="103.8" y1="875.43" x2="112.8" y2="875.43" stroke="#000" stroke-width="2"/>
<line x1="103.8" y1="855.91" x2="112.8" y2="855.91" stroke="#000" stroke-width="2"/>
<line x1="103.8" y1="1064.08" x2="112.8" y2="1064.08" stroke="#000" stroke-width="2"/>
<line x1="103.8" y1="1047.81" x2="112.8" y2="1047.81" stroke="#000" stroke-width="2"/>
<line x1="103.8" y1="1031.55" x2="112.8" y2="1031.55" stroke="#000" stroke-width="2"/>
<line x1="103.8" y1="1015.28" x2="112.8" y2="1015.28" stroke="#000" stroke-width="2"/>
<line x1="103.8" y1="999.01" x2="112.8" y2="999.01" stroke="#000" stroke-width="2"/>
<line x1="103.8" y1="982.75" x2="112.8" y2="982.75" stroke="#000" stroke-width="2"/>
<line x1="103.8" y1="966.48" x2="112.8" y2="966.48" stroke="#000" stroke-width="2"/>
<line x1="103.8" y1="1174.65" x2="112.8" y2="1174.65" stroke="#000" stroke-width="2"/>
<line x1="103.8" y1="1150.25" x2="112.8" y2="1150.25" stroke="#000" stroke-width="2"/>
<line x1="103.8" y1="1125.85" x2="112.8" y2="1125.85" stroke="#000" stroke-width="2"/>
<line x1="103.8" y1="1101.45" x2="112.8" y2="1101.45" stroke="#000" stroke-width="2"/>
<line x1="103.8" y1="1077.05" x2="112.8" y2="1077.05" stroke="#000" stroke-width="2"/>
<line x1="103.8" y1="1285.22" x2="112.8" y2="1285.22" stroke="#000" stroke-width="2"/>
<line x1="103.8" y1="1260.82" x2="112.8" y2="1260.82" stroke="#000" stroke-width="2"/>
<line x1="103.8" y1="1236.42" x2="112.8" y2="1236.42" stroke="#000" stroke-width="2"/>
<line x1="103.8" y1="1212.02" x2="112.8" y2="1212.02" stroke="#000" stroke-width="2"/>
<line x1="103.8" y1="1187.62" x2="112.8" y2="1187.62" stroke="#000" stroke-width="2"/>
<line x1="103.8" y1="1395.79" x2="112.8" y2="1395.79" stroke="#000" stroke-width="2"/>
<line x1="103.8" y1="1371.39" x2="112.8" y2="1371.39" stroke="#000" stroke-width="2"/>
<line x1="103.8" y1="1346.99" x2="112.8" y2="1346.99" stroke="#000" stroke-width="2"/>
<line x1="103.8" y1="1322.59" x2="112.8" y2="1322.59" stroke="#000" stroke-width="2"/>
<line x1="103.8" y1="1298.19" x2="112.8" y2="1298.19" stroke="#000" stroke-width="2"/>
<line x1="103.8" y1="1506.36" x2="112.8" y2="1506.36" stroke="#000" stroke-width="2"/>
<line x1="103.8" y1="1490.09" x2="112.8" y2="1490.09" stroke="#000" stroke-width="2"/>
<line x1="103.8" y1="1473.83" x2="112.8" y2="1473.83" stroke="#000" stroke-width="2"/>
<line x1="103.8" y1="1457.56" x2="112.8" y2="1457.56" stroke="#000" stroke-width="2"/>
<line x1="103.8" y1="1441.29" x2="112.8" y2="1441.29" stroke="#000" stroke-width="2"/>
<line x1="103.8" y1="1425.03" x2="112.8" y2="1425.03" stroke="#000" stroke-width="2"/>
<line x1="103.8" y1="1408.76" x2="112.8" y2="1408.76" stroke="#000" stroke-width="2"/>
<line x1="103.8" y1="1616.93" x2="112.8" y2="1616.93" stroke="#000" stroke-width="2"/>
<line x1="103.8" y1="1597.41" x2="112.8" y2="1597.41" stroke="#000" stroke-width="2"/>
<line x1="103.8" y1="1577.89" x2="112.8" y2="1577.89" stroke="#000" stroke-width="2"/>
<line x1="103.8" y1="1558.37" x2="112.8" y2="1558.37" stroke="#000" stroke-width="2"/>
<line x1="103.8" y1="1538.85" x2="112.8" y2="1538.85" stroke="#000" stroke-width="2"/>
<line x1="103.8" y1="1519.33" x2="112.8" y2="1519.33" stroke="#000" stroke-width="2"/>
<line x1="103.8" y1="1727.5" x2="112.8" y2="1727.5" stroke="#000" stroke-width="2"/>
<line x1="103.8" y1="1707.98" x2="112.8" y2="1707.98" stroke="#000" stroke-width="2"/>
<line x1="103.8" y1="1688.46" x2="112.8" y2="1688.46" stroke="#000" stroke-width="2"/>
<line x1="103.8" y1="1668.94" x2="112.8" y2="1668.94" stroke="#000" stroke-width="2"/>
<line x1="103.8" y1="1649.42" x2="112.8" y2="1649.42" stroke="#000" stroke-width="2"/>
<line x1="103.8" y1="1629.9" x2="112.8" y2="1629.9" stroke="#000" stroke-width="2"/>
<text x="94.5" y="621.67" transform="rotate(-90 94.5 621.67)" font-size="20" font-weight="bold" fill="#000" stroke="#000" stroke-width="0.5" textLength="9.34" lengthAdjust="spacingAndGlyphs">0</text>
<text x="94.5" y="546.16" transform="rotate(-90 94.5 546.16)" font-size="20" font-weight="bold" fill="#000" stroke="#000" stroke-width="0.5" textLength="46.72" lengthAdjust="spacingAndGlyphs">10000</text>
<text x="94.5" y="636.37" transform="rotate(-90 94.5 636.37)" font-size="20" font-weight="bold" fill="#000" stroke="#000" stroke-width="0.5" textLength="9.34" lengthAdjust="spacingAndGlyphs">1</text>
<text x="94.5" y="728.67" transform="rotate(-90 94.5 728.67)" font-size="20" font-weight="bold" fill="#000" stroke="#000" stroke-width="0.5" textLength="9.34" lengthAdjust="spacingAndGlyphs">0</text>
<text x="94.5" y="759.61" transform="rotate(-90 94.5 759.61)" font-size="20" font-weight="bold" fill="#000" stroke="#000" stroke-width="0.5" textLength="28.03" lengthAdjust="spacingAndGlyphs">400</text>
<text x="94.5" y="843.67" transform="rotate(-90 94.5 843.67)" font-size="20" font-weight="bold" fill="#000" stroke="#000" stroke-width="0.5" textLength="9.34" lengthAdjust="spacingAndGlyphs">0</text>
<text x="94.5" y="862.67" transform="rotate(-90 94.5 862.67)" font-size="20" font-weight="bold" fill="#000" stroke="#000" stroke-width="0.5" textLength="9.34" lengthAdjust="spacingAndGlyphs">1</text>
<text x="94.5" y="959.07" transform="rotate(-90 94.5 959.07)" font-size="20" font-weight="bold" fill="#000" stroke="#000" stroke-width="0.5" textLength="9.34" lengthAdjust="spacingAndGlyphs">0</text>
<text x="94.5" y="972.67" transform="rotate(-90 94.5 972.67)" font-size="20" font-weight="bold" fill="#000" stroke="#000" stroke-width="0.5" textLength="9.34" lengthAdjust="spacingAndGlyphs">3</text>
<text x="94.5" y="1065.67" transform="rotate(-90 94.5 1065.67)" font-size="20" font-weight="bold" fill="#000" stroke="#000" stroke-width="0.5" textLength="9.34" lengthAdjust="spacingAndGlyphs">0</text>
<text x="94.5" y="1103.01" transform="rotate(-90 94.5 1103.01)" font-size="20" font-weight="bold" fill="#000" stroke="#000" stroke-width="0.5" textLength="28.03" lengthAdjust="spacingAndGlyphs">800</text>
<text x="94.5" y="1176.67" transform="rotate(-90 94.5 1176.67)" font-size="20" font-weight="bold" fill="#000" stroke="#000" stroke-width="0.5" textLength="9.34" lengthAdjust="spacingAndGlyphs">0</text>
<text x="94.5" y="1208.68" transform="rotate(-90 94.5 1208.68)" font-size="20" font-weight="bold" fill="#000" stroke="#000" stroke-width="0.5" textLength="23.35" lengthAdjust="spacingAndGlyphs">0.2</text>
<text x="94.5" y="1283.68" transform="rotate(-90 94.5 1283.68)" font-size="20" font-weight="bold" fill="#000" stroke="#000" stroke-width="0.5" textLength="23.35" lengthAdjust="spacingAndGlyphs">0.0</text>
<text x="94.5" y="1319.68" transform="rotate(-90 94.5 1319.68)" font-size="20" font-weight="bold" fill="#000" stroke="#000" stroke-width="0.5" textLength="23.35" lengthAdjust="spacingAndGlyphs">0.2</text>
<text x="94.5" y="1395.68" transform="rotate(-90 94.5 1395.68)" font-size="20" font-weight="bold" fill="#000" stroke="#000" stroke-width="0.5" textLength="23.35" lengthAdjust="spacingAndGlyphs">0.0</text>
<text x="94.5" y="1424.34" transform="rotate(-90 94.5 1424.34)" font-size="20" font-weight="bold" fill="#000" stroke="#000" stroke-width="0.5" textLength="18.69" lengthAdjust="spacingAndGlyphs">12</text>
<text x="94.5" y="1503.67" transform="rotate(-90 94.5 1503.67)" font-size="20" font-weight="bold" fill="#000" stroke="#000" stroke-width="0.5" textLength="9.34" lengthAdjust="spacingAndGlyphs">0</text>
<text x="94.5" y="1544.01" transform="rotate(-90 94.5 1544.01)" font-size="20" font-weight="bold" fill="#000" stroke="#000" stroke-width="0.5" textLength="28.03" lengthAdjust="spacingAndGlyphs">100</text>
<text x="94.5" y="1619.67" transform="rotate(-90 94.5 1619.67)" font-size="20" font-weight="bold" fill="#000" stroke="#000" stroke-width="0.5" textLength="9.34" lengthAdjust="spacingAndGlyphs">0</text>
<text x="94.5" y="1632.67" transform="rotate(-90 94.5 1632.67)" font-size="20" font-weight="bold" fill="#000" stroke="#000" stroke-width="0.5" textLength="9.34" lengthAdjust="spacingAndGlyphs">1</text>
<text x="94.5" y="1730.67" transform="rotate(-90 94.5 1730.67)" font-size="20" font-weight="bold" fill="#000" stroke="#000" stroke-width="0.5" textLength="9.34" lengthAdjust="spacingAndGlyphs">0</text>
<text x="59" y="587.8" transform="rotate(-90 59 587.8)" font-size="24.3" fill="#000" stroke="#000" stroke-width="0.61" textLength="43.4" lengthAdjust="spacingAndGlyphs">SNV</text>
<text x="59" y="737.8" transform="rotate(-90 59 737.8)" font-size="24.3" fill="#000" stroke="#000" stroke-width="0.61" textLength="112.2" lengthAdjust="spacingAndGlyphs">Signatures</text>
<text x="59" y="840" transform="rotate(-90 59 840)" font-size="24.3" fill="#000" stroke="#000" stroke-width="0.61" textLength="99" lengthAdjust="spacingAndGlyphs">COSMIC</text>
<text x="59" y="960" transform="rotate(-90 59 960)" font-size="24.3" fill="#000" stroke="#000" stroke-width="0.61" textLength="93.29" lengthAdjust="spacingAndGlyphs">Location</text>
<text x="59" y="1058.3" transform="rotate(-90 59 1058.3)" font-size="24.3" fill="#000" stroke="#000" stroke-width="0.61" textLength="87.49" lengthAdjust="spacingAndGlyphs">Kataegis</text>
<text x="59" y="1153" transform="rotate(-90 59 1153)" font-size="24.3" fill="#000" stroke="#000" stroke-width="0.61" textLength="59.26" lengthAdjust="spacingAndGlyphs">Indels</text>
<text x="59" y="1254.96" transform="rotate(-90 59 1254.96)" font-size="24.3" fill="#000" stroke="#000" stroke-width="0.61" textLength="45.95" lengthAdjust="spacingAndGlyphs">wGII</text>
<text x="59" y="1343.75" transform="rotate(-90 59 1343.75)" font-size="24.3" fill="#000" stroke="#000" stroke-width="0.61" textLength="47.95" lengthAdjust="spacingAndGlyphs">LOH</text>
<text x="59" y="1477" transform="rotate(-90 59 1477)" font-size="24.3" fill="#000" stroke="#000" stroke-width="0.61" textLength="47.21" lengthAdjust="spacingAndGlyphs">CNA</text>
<text x="59" y="1578" transform="rotate(-90 59 1578)" font-size="24.3" fill="#000" stroke="#000" stroke-width="0.61" textLength="29" lengthAdjust="spacingAndGlyphs">SV</text>
<text x="59" y="1725.2" transform="rotate(-90 59 1725.2)" font-size="24.3" fill="#000" stroke="#000" stroke-width="0.61" textLength="94.5" lengthAdjust="spacingAndGlyphs">SV freq%</text>
<text x="134.3" y="1764.3" font-size="26" fill="#000" stroke="#000" stroke-width="0.65" textLength="56.59" lengthAdjust="spacingAndGlyphs">101d</text>
<text x="226" y="1764.3" font-size="26" fill="#000" stroke="#000" stroke-width="0.65" textLength="55.79" lengthAdjust="spacingAndGlyphs">190d</text>
<text x="316" y="1764.3" font-size="26" fill="#000" stroke="#000" stroke-width="0.65" textLength="57.59" lengthAdjust="spacingAndGlyphs">260d</text>
<text x="407.4" y="1764.3" font-size="26" fill="#000" stroke="#000" stroke-width="0.65" textLength="58.39" lengthAdjust="spacingAndGlyphs">428d</text>
<text x="499.6" y="1764.3" font-size="26" fill="#000" stroke="#000" stroke-width="0.65" textLength="57.09" lengthAdjust="spacingAndGlyphs">609d</text>
<text x="649" y="1764.3" font-size="26" fill="#000" stroke="#000" stroke-width="0.65" textLength="41.61" lengthAdjust="spacingAndGlyphs">Mid</text>
<text x="755" y="1764.3" font-size="26" fill="#000" stroke="#000" stroke-width="0.65" textLength="49.81" lengthAdjust="spacingAndGlyphs">Late</text>
<text x="904.3" y="1764.3" font-size="26" fill="#000" stroke="#000" stroke-width="0.65" textLength="55.71" lengthAdjust="spacingAndGlyphs">115d</text>
<text x="996" y="1764.3" font-size="26" fill="#000" stroke="#000" stroke-width="0.65" textLength="56.19" lengthAdjust="spacingAndGlyphs">190d</text>
<text x="1086" y="1764.3" font-size="26" fill="#000" stroke="#000" stroke-width="0.65" textLength="57.59" lengthAdjust="spacingAndGlyphs">264d</text>
<text x="1178.3" y="1764.3" font-size="26" fill="#000" stroke="#000" stroke-width="0.65" textLength="57.49" lengthAdjust="spacingAndGlyphs">404d</text>
<text x="1270.5" y="1764.3" font-size="26" fill="#000" stroke="#000" stroke-width="0.65" textLength="57.49" lengthAdjust="spacingAndGlyphs">705d</text>
<text x="1414.5" y="1764.3" font-size="26" fill="#000" stroke="#000" stroke-width="0.65" textLength="41.71" lengthAdjust="spacingAndGlyphs">Mid</text>
<text x="1519.9" y="1764.3" font-size="26" fill="#000" stroke="#000" stroke-width="0.65" textLength="49.61" lengthAdjust="spacingAndGlyphs">Late</text>
<text x="1653" y="1764.3" font-size="26" fill="#000" stroke="#000" stroke-width="0.65" textLength="41.01" lengthAdjust="spacingAndGlyphs">Mid</text>
<text x="1758.7" y="1764.3" font-size="26" fill="#000" stroke="#000" stroke-width="0.65" textLength="50.31" lengthAdjust="spacingAndGlyphs">Late</text>
<rect x="1861.2" y="622.8" width="114.2" height="131.2" fill="none" stroke="#000" stroke-width="2"/>
<rect x="1870.7" y="633.6" width="15.6" height="12.5" fill="#ec8f8f" stroke="#000" stroke-width="1.6"/>
<text x="1895" y="646.6" font-size="17.8" fill="#000" stroke="#000" stroke-width="0.45" textLength="61.61" lengthAdjust="spacingAndGlyphs">SBS40</text>
<rect x="1870.7" y="657.82" width="15.6" height="12.5" fill="#36a043" stroke="#000" stroke-width="1.6"/>
<text x="1895" y="670.75" font-size="17.8" fill="#000" stroke="#000" stroke-width="0.45" textLength="73.21" lengthAdjust="spacingAndGlyphs">SBS17b</text>
<rect x="1870.7" y="682.04" width="15.6" height="12.5" fill="#b1dc8d" stroke="#000" stroke-width="1.6"/>
<text x="1895" y="694.9" font-size="17.8" fill="#000" stroke="#000" stroke-width="0.45" textLength="73.19" lengthAdjust="spacingAndGlyphs">SBS17a</text>
<rect x="1870.7" y="706.26" width="15.6" height="12.5" fill="#2c6ea4" stroke="#000" stroke-width="1.6"/>
<text x="1895" y="719.05" font-size="17.8" fill="#000" stroke="#000" stroke-width="0.45" textLength="50.3" lengthAdjust="spacingAndGlyphs">SBS5</text>
<rect x="1870.7" y="730.48" width="15.6" height="12.5" fill="#a9cfe0" stroke="#000" stroke-width="1.6"/>
<text x="1895" y="743.2" font-size="17.8" fill="#000" stroke="#000" stroke-width="0.45" textLength="48.9" lengthAdjust="spacingAndGlyphs">SBS1</text>
<rect x="1861.2" y="842.7" width="114.2" height="135.3" fill="none" stroke="#000" stroke-width="2"/>
<rect x="1871.3" y="853.2" width="12.3" height="10" fill="#8b5a9f" stroke="#000" stroke-width="1.5"/>
<text x="1896.9" y="863.2" font-size="13.2" fill="#000" stroke="#000" stroke-width="0.33" textLength="30.7" lengthAdjust="spacingAndGlyphs">RNA</text>
<rect x="1871.3" y="871" width="12.3" height="10" fill="#a2232e" stroke="#000" stroke-width="1.5"/>
<text x="1896.9" y="881" font-size="13.2" fill="#000" stroke="#000" stroke-width="0.33" textLength="71.29" lengthAdjust="spacingAndGlyphs">Splice Site</text>
<rect x="1871.3" y="888.8" width="12.3" height="10" fill="#a3c95b" stroke="#000" stroke-width="1.5"/>
<text x="1896.9" y="898.8" font-size="13.2" fill="#000" stroke="#000" stroke-width="0.33" textLength="38.9" lengthAdjust="spacingAndGlyphs">Intron</text>
<rect x="1871.3" y="906.6" width="12.3" height="10" fill="#d883ad" stroke="#000" stroke-width="1.5"/>
<text x="1896.9" y="916.6" font-size="13.2" fill="#000" stroke="#000" stroke-width="0.33" textLength="66.79" lengthAdjust="spacingAndGlyphs">Intergenic</text>
<rect x="1871.3" y="924.4" width="12.3" height="10" fill="#7c94c4" stroke="#000" stroke-width="1.5"/>
<text x="1896.9" y="934.4" font-size="13.2" fill="#000" stroke="#000" stroke-width="0.33" textLength="48.4" lengthAdjust="spacingAndGlyphs">Coding</text>
<rect x="1871.3" y="942.2" width="12.3" height="10" fill="#ee8a5a" stroke="#000" stroke-width="1.5"/>
<text x="1896.9" y="952.2" font-size="13.2" fill="#000" stroke="#000" stroke-width="0.33" textLength="46.8" lengthAdjust="spacingAndGlyphs">5’ UTR</text>
<rect x="1871.3" y="960" width="12.3" height="10" fill="#63c3a3" stroke="#000" stroke-width="1.5"/>
<text x="1896.9" y="970" font-size="13.2" fill="#000" stroke="#000" stroke-width="0.33" textLength="47" lengthAdjust="spacingAndGlyphs">3’ UTR</text>
<rect x="1863.7" y="1088.6" width="113.7" height="82.9" fill="none" stroke="#000" stroke-width="2"/>
<rect x="1888.2" y="1111.6" width="15.9" height="12.8" fill="#7d4f96" stroke="#000" stroke-width="1.6"/>
<rect x="1888.2" y="1135.8" width="15.9" height="12.8" fill="#ec8731" stroke="#000" stroke-width="1.6"/>
<text x="1922" y="1125.1" font-size="18.5" fill="#000" stroke="#000" stroke-width="0.46" textLength="32.4" lengthAdjust="spacingAndGlyphs">INS</text>
<text x="1922" y="1149.5" font-size="18.5" fill="#000" stroke="#000" stroke-width="0.46" textLength="38.81" lengthAdjust="spacingAndGlyphs">DEL</text>
<rect x="1863" y="1421.7" width="114.2" height="79.9" fill="none" stroke="#000" stroke-width="2"/>
<rect x="1885.9" y="1443" width="16" height="13" fill="#2a2a6c" stroke="#000" stroke-width="1.6"/>
<rect x="1885.9" y="1467.6" width="16" height="13" fill="#dd2a2d" stroke="#000" stroke-width="1.6"/>
<text x="1919.7" y="1456.7" font-size="18.5" fill="#000" stroke="#000" stroke-width="0.46" textLength="41.81" lengthAdjust="spacingAndGlyphs">Loss</text>
<text x="1919.7" y="1481.3" font-size="18.5" fill="#000" stroke="#000" stroke-width="0.46" textLength="41.81" lengthAdjust="spacingAndGlyphs">Gain</text>
<rect x="1863.7" y="1609.6" width="114.2" height="133.8" fill="none" stroke="#000" stroke-width="2"/>
<rect x="1886.8" y="1633.8" width="16" height="13" fill="#dd3d8d" stroke="#000" stroke-width="1.6"/>
<text x="1920.4" y="1647.3" font-size="18.5" fill="#000" stroke="#000" stroke-width="0.46" textLength="40" lengthAdjust="spacingAndGlyphs">TRA</text>
<rect x="1886.8" y="1658.17" width="16" height="13" fill="#7b6fb0" stroke="#000" stroke-width="1.6"/>
<text x="1920.4" y="1671.57" font-size="18.5" fill="#000" stroke="#000" stroke-width="0.46" textLength="33.1" lengthAdjust="spacingAndGlyphs">INV</text>
<rect x="1886.8" y="1682.54" width="16" height="13" fill="#d0632c" stroke="#000" stroke-width="1.6"/>
<text x="1920.4" y="1695.84" font-size="18.5" fill="#000" stroke="#000" stroke-width="0.46" textLength="42.21" lengthAdjust="spacingAndGlyphs">DUP</text>
<rect x="1886.8" y="1706.91" width="16" height="13" fill="#21966f" stroke="#000" stroke-width="1.6"/>
<text x="1920.4" y="1720.11" font-size="18.5" fill="#000" stroke="#000" stroke-width="0.46" textLength="39.31" lengthAdjust="spacingAndGlyphs">DEL</text>
<text x="2" y="1814.5" font-size="30" font-weight="bold" fill="#000" stroke="#000" stroke-width="0.75" textLength="15" lengthAdjust="spacingAndGlyphs">c</text>
<rect x="83.7" y="2188.7" width="40.4" height="190.8" fill="#e8716a"/>
<rect x="83.7" y="2309.9" width="40.4" height="69.6" fill="#2da84a"/>
<rect x="129.3" y="2022.7" width="40.4" height="356.8" fill="#e8716a"/>
<rect x="129.3" y="2236.2" width="40.4" height="143.3" fill="#6d8cc0"/>
<rect x="174.8" y="2011.3" width="40.4" height="368.2" fill="#e8716a"/>
<rect x="174.8" y="2250.8" width="40.4" height="29.3" fill="#2da84a"/>
<rect x="174.8" y="2280.1" width="40.4" height="99.4" fill="#6d8cc0"/>
<rect x="240.3" y="2291.8" width="40.4" height="87.7" fill="#e8716a"/>
<rect x="240.3" y="2365.2" width="40.4" height="14.3" fill="#2da84a"/>
<rect x="285.8" y="2225.2" width="40.4" height="154.3" fill="#e8716a"/>
<rect x="285.8" y="2343.2" width="40.4" height="36.3" fill="#2da84a"/>
<rect x="356.6" y="2240.4" width="40.4" height="139.1" fill="#e8716a"/>
<rect x="356.6" y="2354.2" width="40.4" height="25.3" fill="#2da84a"/>
<rect x="401.7" y="2099.8" width="40.4" height="279.7" fill="#e8716a"/>
<rect x="401.7" y="2350.8" width="40.4" height="28.7" fill="#2da84a"/>
<rect x="447.7" y="1878.5" width="40.4" height="501" fill="#e8716a"/>
<rect x="447.7" y="2291.8" width="40.4" height="47.6" fill="#2da84a"/>
<rect x="447.7" y="2339.4" width="40.4" height="40.1" fill="#6d8cc0"/>
<rect x="513.4" y="2199.9" width="40.4" height="179.6" fill="#e8716a"/>
<rect x="513.4" y="2369" width="40.4" height="10.5" fill="#2da84a"/>
<rect x="559" y="2240.4" width="40.4" height="139.1" fill="#e8716a"/>
<rect x="559" y="2369" width="40.4" height="10.5" fill="#2da84a"/>
<rect x="627.3" y="2196.1" width="40.4" height="183.4" fill="#e8716a"/>
<rect x="672.4" y="2059" width="40.4" height="320.5" fill="#e8716a"/>
<rect x="672.4" y="2328.5" width="40.4" height="51" fill="#2da84a"/>
<line x1="76.7" y1="1813" x2="76.7" y2="2406.3" stroke="#000" stroke-width="3.6"/>
<line x1="75" y1="2404.6" x2="223.4" y2="2404.6" stroke="#000" stroke-width="3.5"/>
<line x1="238.2" y1="2404.6" x2="335.1" y2="2404.6" stroke="#000" stroke-width="3.5"/>
<line x1="347.8" y1="2404.6" x2="496.6" y2="2404.6" stroke="#000" stroke-width="3.5"/>
<line x1="511.3" y1="2404.6" x2="607.9" y2="2404.6" stroke="#000" stroke-width="3.5"/>
<line x1="619.4" y1="2404.6" x2="721.7" y2="2404.6" stroke="#000" stroke-width="3.5"/>
<line x1="103.8" y1="2404.6" x2="103.8" y2="2412.6" stroke="#000" stroke-width="3.5"/>
<line x1="149.2" y1="2404.6" x2="149.2" y2="2412.6" stroke="#000" stroke-width="3.5"/>
<line x1="194.8" y1="2404.6" x2="194.8" y2="2412.6" stroke="#000" stroke-width="3.5"/>
<line x1="260.1" y1="2404.6" x2="260.1" y2="2412.6" stroke="#000" stroke-width="3.5"/>
<line x1="306" y1="2404.6" x2="306" y2="2412.6" stroke="#000" stroke-width="3.5"/>
<line x1="376.4" y1="2404.6" x2="376.4" y2="2412.6" stroke="#000" stroke-width="3.5"/>
<line x1="421.5" y1="2404.6" x2="421.5" y2="2412.6" stroke="#000" stroke-width="3.5"/>
<line x1="467.5" y1="2404.6" x2="467.5" y2="2412.6" stroke="#000" stroke-width="3.5"/>
<line x1="533.3" y1="2404.6" x2="533.3" y2="2412.6" stroke="#000" stroke-width="3.5"/>
<line x1="579.2" y1="2404.6" x2="579.2" y2="2412.6" stroke="#000" stroke-width="3.5"/>
<line x1="647.1" y1="2404.6" x2="647.1" y2="2412.6" stroke="#000" stroke-width="3.5"/>
<line x1="692.7" y1="2404.6" x2="692.7" y2="2412.6" stroke="#000" stroke-width="3.5"/>
<line x1="68.5" y1="2011.6" x2="76.7" y2="2011.6" stroke="#000" stroke-width="4"/>
<line x1="68.5" y1="2195.6" x2="76.7" y2="2195.6" stroke="#000" stroke-width="4"/>
<line x1="68.5" y1="2379.5" x2="76.7" y2="2379.5" stroke="#000" stroke-width="4"/>
<text x="29.7" y="2015.8" font-size="19" fill="#000" stroke="#000" stroke-width="0.47" textLength="29.91" lengthAdjust="spacingAndGlyphs">100</text>
<text x="38.9" y="2200.2" font-size="19" fill="#000" stroke="#000" stroke-width="0.47" textLength="20.31" lengthAdjust="spacingAndGlyphs">50</text>
<text x="48.9" y="2384" font-size="19" fill="#000" stroke="#000" stroke-width="0.47" textLength="10.3" lengthAdjust="spacingAndGlyphs">0</text>
<text x="31.5" y="2203.9" transform="rotate(-90 31.5 2203.9)" font-size="28" fill="#000" stroke="#000" stroke-width="0.7" textLength="179.41" lengthAdjust="spacingAndGlyphs">Number of SVs</text>
<text x="93.6" y="1827.1" font-size="18.5" fill="#000" stroke="#000" stroke-width="0.46" textLength="71.6" lengthAdjust="spacingAndGlyphs">SV class</text>
<rect x="91.5" y="1835.5" width="18.1" height="17.7" fill="#e8716a"/>
<rect x="253.8" y="1833.4" width="18.1" height="17.7" fill="#2da84a"/>
<rect x="468.8" y="1831.3" width="18.9" height="19" fill="#6d8cc0"/>
<text x="119.3" y="1849" font-size="19" fill="#000" stroke="#000" stroke-width="0.47" textLength="121.81" lengthAdjust="spacingAndGlyphs">Non–clustered</text>
<text x="283.7" y="1840.6" font-size="19" fill="#000" stroke="#000" stroke-width="0.47" textLength="154.7" lengthAdjust="spacingAndGlyphs">Clustered - Simple</text>
<text x="283.7" y="1853.2" font-size="13.5" fill="#000" stroke="#000" stroke-width="0.34" textLength="142.1" lengthAdjust="spacingAndGlyphs">(2-9 rearrangements)</text>
<text x="496.2" y="1840.6" font-size="19" fill="#000" stroke="#000" stroke-width="0.47" textLength="172.01" lengthAdjust="spacingAndGlyphs">Clustered - Complex</text>
<text x="496.2" y="1853.2" font-size="13.5" fill="#000" stroke="#000" stroke-width="0.34" textLength="137" lengthAdjust="spacingAndGlyphs">(&gt;9 rearrangements)</text>
<text x="73.8" y="2438.8" font-size="18.5" fill="#000" stroke="#000" stroke-width="0.46" textLength="42.11" lengthAdjust="spacingAndGlyphs">Early</text>
<text x="127.7" y="2438.8" font-size="18.5" fill="#000" stroke="#000" stroke-width="0.46" textLength="29.51" lengthAdjust="spacingAndGlyphs">Mid</text>
<text x="169.9" y="2438.8" font-size="18.5" fill="#000" stroke="#000" stroke-width="0.46" textLength="35.01" lengthAdjust="spacingAndGlyphs">Late</text>
<text x="239.4" y="2438.8" font-size="18.5" fill="#000" stroke="#000" stroke-width="0.46" textLength="29.11" lengthAdjust="spacingAndGlyphs">Mid</text>
<text x="280.3" y="2438.8" font-size="18.5" fill="#000" stroke="#000" stroke-width="0.46" textLength="35.91" lengthAdjust="spacingAndGlyphs">Late</text>
<text x="346.5" y="2438.8" font-size="18.5" fill="#000" stroke="#000" stroke-width="0.46" textLength="42.21" lengthAdjust="spacingAndGlyphs">Early</text>
<text x="400.9" y="2438.8" font-size="18.5" fill="#000" stroke="#000" stroke-width="0.46" textLength="29.51" lengthAdjust="spacingAndGlyphs">Mid</text>
<text x="441.8" y="2438.8" font-size="18.5" fill="#000" stroke="#000" stroke-width="0.46" textLength="35.81" lengthAdjust="spacingAndGlyphs">Late</text>
<text x="512.2" y="2438.8" font-size="18.5" fill="#000" stroke="#000" stroke-width="0.46" textLength="29.51" lengthAdjust="spacingAndGlyphs">Mid</text>
<text x="553" y="2438.8" font-size="18.5" fill="#000" stroke="#000" stroke-width="0.46" textLength="36.01" lengthAdjust="spacingAndGlyphs">Late</text>
<text x="626" y="2438.8" font-size="18.5" fill="#000" stroke="#000" stroke-width="0.46" textLength="29.51" lengthAdjust="spacingAndGlyphs">Mid</text>
<text x="666.9" y="2438.8" font-size="18.5" fill="#000" stroke="#000" stroke-width="0.46" textLength="35.81" lengthAdjust="spacingAndGlyphs">Late</text>
<rect x="77" y="2452.3" width="145.2" height="39.7" fill="#c8c8c4"/>
<text x="115" y="2482.2" font-size="26" fill="#000" stroke="#000" stroke-width="0.65" textLength="67.49" lengthAdjust="spacingAndGlyphs">D2C2</text>
<rect x="240.3" y="2452.3" width="92.7" height="39.7" fill="#c8c8c4"/>
<text x="256.3" y="2482.2" font-size="26" fill="#000" stroke="#000" stroke-width="0.65" textLength="66.69" lengthAdjust="spacingAndGlyphs">D2C3</text>
<rect x="349.5" y="2452.3" width="145" height="39.7" fill="#c8c8c4"/>
<text x="388.7" y="2482.2" font-size="26" fill="#000" stroke="#000" stroke-width="0.65" textLength="65.69" lengthAdjust="spacingAndGlyphs">D3C1</text>
<rect x="513" y="2452.3" width="93.2" height="39.7" fill="#c8c8c4"/>
<text x="528.2" y="2482.2" font-size="26" fill="#000" stroke="#000" stroke-width="0.65" textLength="66.59" lengthAdjust="spacingAndGlyphs">D3C2</text>
<rect x="621.7" y="2452.3" width="98.1" height="39.7" fill="#c8c8c4"/>
<text x="641.4" y="2482.2" font-size="26" fill="#000" stroke="#000" stroke-width="0.65" textLength="65.99" lengthAdjust="spacingAndGlyphs">D3C3</text>
<text x="735.4" y="1813.1" font-size="30" font-weight="bold" fill="#000" stroke="#000" stroke-width="0.75" textLength="16.3" lengthAdjust="spacingAndGlyphs">d</text>
<rect x="812" y="2345.4" width="28" height="13.8" fill="#a27bbe"/>
<rect x="812" y="2325.4" width="28" height="20" fill="#2bb5b7"/>
<rect x="812" y="2255.9" width="28" height="69.5" fill="#79aa3b"/>
<rect x="812" y="1821.3" width="28" height="434.6" fill="#e8716a"/>
<rect x="843.7" y="2341.6" width="28" height="17.6" fill="#a27bbe"/>
<rect x="843.7" y="2318.6" width="28" height="23" fill="#2bb5b7"/>
<rect x="843.7" y="2315.2" width="28" height="3.4" fill="#79aa3b"/>
<rect x="843.7" y="2282.3" width="28" height="32.9" fill="#e8716a"/>
<rect x="875.3" y="2346.7" width="28" height="12.5" fill="#a27bbe"/>
<rect x="875.3" y="2316.9" width="28" height="29.8" fill="#2bb5b7"/>
<rect x="875.3" y="2315.2" width="28" height="1.7" fill="#79aa3b"/>
<rect x="875.3" y="2292.7" width="28" height="22.5" fill="#e8716a"/>
<line x1="807" y1="1812.3" x2="807" y2="2387.8" stroke="#000" stroke-width="3.6"/>
<line x1="805.2" y1="2386" x2="909.9" y2="2386" stroke="#000" stroke-width="3.5"/>
<line x1="826" y1="2386" x2="826" y2="2393.6" stroke="#000" stroke-width="3.5"/>
<line x1="857.1" y1="2386" x2="857.1" y2="2393.6" stroke="#000" stroke-width="3.5"/>
<line x1="889" y1="2386" x2="889" y2="2393.6" stroke="#000" stroke-width="3.5"/>
<line x1="798.7" y1="1840.8" x2="807" y2="1840.8" stroke="#000" stroke-width="3"/>
<text x="764.2" y="1848.2" font-size="18" fill="#000" stroke="#000" stroke-width="0.45" textLength="31.11" lengthAdjust="spacingAndGlyphs">600</text>
<line x1="798.7" y1="2013.4" x2="807" y2="2013.4" stroke="#000" stroke-width="3"/>
<text x="764.2" y="2020.8" font-size="18" fill="#000" stroke="#000" stroke-width="0.45" textLength="31.11" lengthAdjust="spacingAndGlyphs">400</text>
<line x1="798.7" y1="2186.3" x2="807" y2="2186.3" stroke="#000" stroke-width="3"/>
<text x="764.2" y="2193.7" font-size="18" fill="#000" stroke="#000" stroke-width="0.45" textLength="31.11" lengthAdjust="spacingAndGlyphs">200</text>
<line x1="798.7" y1="2359.2" x2="807" y2="2359.2" stroke="#000" stroke-width="3"/>
<text x="782.8" y="2366" font-size="18" fill="#000" stroke="#000" stroke-width="0.45" textLength="9.5" lengthAdjust="spacingAndGlyphs">0</text>
<text x="858.7" y="1830.2" font-size="22" fill="#000" stroke="#000" stroke-width="0.55" textLength="76.6" lengthAdjust="spacingAndGlyphs">SV type</text>
<rect x="858.7" y="1845.1" width="14.9" height="14.8" fill="#e8716a"/>
<text x="882.6" y="1857.6" font-size="13.2" fill="#000" stroke="#000" stroke-width="0.33" textLength="25.68" lengthAdjust="spacingAndGlyphs">DEL</text>
<rect x="858.7" y="1867.13" width="14.9" height="14.8" fill="#79aa3b"/>
<text x="882.6" y="1879.4" font-size="13.2" fill="#000" stroke="#000" stroke-width="0.33" textLength="27.87" lengthAdjust="spacingAndGlyphs">DUP</text>
<rect x="858.7" y="1889.16" width="14.9" height="14.8" fill="#2bb5b7"/>
<text x="882.6" y="1902.1" font-size="13.2" fill="#000" stroke="#000" stroke-width="0.33" textLength="22" lengthAdjust="spacingAndGlyphs">INV</text>
<rect x="858.7" y="1911.19" width="14.9" height="14.8" fill="#a27bbe"/>
<text x="882.6" y="1923.5" font-size="13.2" fill="#000" stroke="#000" stroke-width="0.33" textLength="26.4" lengthAdjust="spacingAndGlyphs">TRA</text>
<text x="833.5" y="2417" transform="rotate(-45 833.5 2417)" font-size="18.8" text-anchor="end">Non–clustered</text>
<text x="874" y="2411" transform="rotate(-45 874 2411)" font-size="18.8" text-anchor="end">Clustered-Simple</text>
<text x="914" y="2407" transform="rotate(-45 914 2407)" font-size="18.8" text-anchor="end">Clustered-Complex</text>
<text x="976" y="1813.6" font-size="30" font-weight="bold" fill="#000" stroke="#000" stroke-width="0.75" textLength="15.8" lengthAdjust="spacingAndGlyphs">e</text>
<rect x="1254.8" y="1834.5" width="27.8" height="8" fill="#1f64a6"/>
<circle cx="1254.8" cy="1838.5" r="13.2" fill="#1f64a6"/>
<text x="1294" y="1844" font-size="22.5" fill="#000" stroke="#000" stroke-width="0.56" textLength="152.1" lengthAdjust="spacingAndGlyphs">Mean % change</text>
<rect x="1559.5" y="1834.5" width="26.9" height="8" fill="#17936a"/>
<circle cx="1559.5" cy="1838.5" r="13.5" fill="#17936a"/>
<text x="1602.8" y="1844" font-size="22.5" fill="#000" stroke="#000" stroke-width="0.56" textLength="168.21" lengthAdjust="spacingAndGlyphs">Median % change</text>
<text x="1031.1" y="1900.3" font-size="28" font-weight="bold" fill="#000" stroke="#000" stroke-width="0.7" textLength="57.1" lengthAdjust="spacingAndGlyphs">NCO</text>
<text x="1368.9" y="1900.3" font-size="28" font-weight="bold" fill="#000" stroke="#000" stroke-width="0.7" textLength="37.3" lengthAdjust="spacingAndGlyphs">CO</text>
<text x="1708.8" y="1900.3" font-size="28" font-weight="bold" fill="#000" stroke="#000" stroke-width="0.7" textLength="224.69" lengthAdjust="spacingAndGlyphs">Gastric organoids</text>
<text x="972.1" y="2280.4" transform="rotate(-90 972.1 2280.4)" font-size="27" fill="#000" stroke="#000" stroke-width="0.68" textLength="165.61" lengthAdjust="spacingAndGlyphs">Number of SVs</text>
<line x1="1030.2" y1="1914" x2="1030.2" y2="2463.7" stroke="#000" stroke-width="3.8"/>
<line x1="1029.8" y1="2462.2" x2="1305.2" y2="2462.2" stroke="#000" stroke-width="3.8"/>
<line x1="1022.4" y1="1969.5" x2="1030.2" y2="1969.5" stroke="#000" stroke-width="3.8"/>
<text x="978.1" y="1977.4" font-size="21.5" fill="#000" stroke="#000" stroke-width="0.54" textLength="33.81" lengthAdjust="spacingAndGlyphs">200</text>
<line x1="1022.4" y1="2094.75" x2="1030.2" y2="2094.75" stroke="#000" stroke-width="3.8"/>
<text x="978.1" y="2102.65" font-size="21.5" fill="#000" stroke="#000" stroke-width="0.54" textLength="33.81" lengthAdjust="spacingAndGlyphs">150</text>
<line x1="1022.4" y1="2220" x2="1030.2" y2="2220" stroke="#000" stroke-width="3.8"/>
<text x="978.1" y="2227.9" font-size="21.5" fill="#000" stroke="#000" stroke-width="0.54" textLength="33.81" lengthAdjust="spacingAndGlyphs">100</text>
<line x1="1022.4" y1="2345.25" x2="1030.2" y2="2345.25" stroke="#000" stroke-width="3.8"/>
<text x="993.6" y="2353.15" font-size="21.5" fill="#000" stroke="#000" stroke-width="0.54" textLength="22.11" lengthAdjust="spacingAndGlyphs">50</text>
<line x1="1114.1" y1="2462.2" x2="1114.1" y2="2469.6" stroke="#000" stroke-width="3.8"/>
<line x1="1252.8" y1="2462.2" x2="1252.8" y2="2469.6" stroke="#000" stroke-width="3.8"/>
<text x="1096.4" y="2497.7" font-size="22.5" fill="#000" stroke="#000" stroke-width="0.56" textLength="21.1" lengthAdjust="spacingAndGlyphs">T1</text>
<text x="1235.7" y="2497.7" font-size="22.5" fill="#000" stroke="#000" stroke-width="0.56" textLength="23.5" lengthAdjust="spacingAndGlyphs">T2</text>
<text x="1155.4" y="1928.1" font-size="24" fill="#000" stroke="#000" stroke-width="0.6" textLength="60.41" lengthAdjust="spacingAndGlyphs">p=0.5</text>
<path d="M1113.9,1953.5 V1939.2 H1252.8 V1953.5" fill="none" stroke="#000" stroke-width="2"/>
<rect x="1053.1" y="1980.5" width="22.1" height="6.6" fill="#1f64a6"/>
<circle cx="1053.1" cy="1983.8" r="11" fill="#1f64a6"/>
<rect x="1053.1" y="2008.5" width="22.1" height="6.6" fill="#17936a"/>
<circle cx="1053.1" cy="2011.8" r="11" fill="#17936a"/>
<text x="1085.4" y="1990.5" font-size="21" fill="#000" stroke="#000" stroke-width="0.53" textLength="37.21" lengthAdjust="spacingAndGlyphs">-4%</text>
<text x="1085.4" y="2017.7" font-size="21" fill="#000" stroke="#000" stroke-width="0.53" textLength="37.21" lengthAdjust="spacingAndGlyphs">-1%</text>
<line x1="1114.1" y1="2322" x2="1114.1" y2="2237.2" stroke="#e8716a" stroke-width="3.6"/>
<line x1="1114.1" y1="2389.2" x2="1114.1" y2="2424.1" stroke="#e8716a" stroke-width="3.6"/>
<rect x="1064.2" y="2322" width="99.1" height="67.2" fill="none" stroke="#e8716a" stroke-width="3.6"/>
<line x1="1064.2" y1="2366.6" x2="1163.3" y2="2366.6" stroke="#e8716a" stroke-width="5.1"/>
<line x1="1252.8" y1="2331.9" x2="1252.8" y2="2255.7" stroke="#2bb3b3" stroke-width="3.6"/>
<line x1="1252.8" y1="2395.6" x2="1252.8" y2="2436.4" stroke="#2bb3b3" stroke-width="3.6"/>
<rect x="1203.6" y="2331.9" width="98.6" height="63.7" fill="none" stroke="#2bb3b3" stroke-width="3.6"/>
<line x1="1203.6" y1="2367.5" x2="1302.2" y2="2367.5" stroke="#2bb3b3" stroke-width="5.1"/>
<circle cx="1101.1" cy="1961.6" r="5.8" fill="#e8716a"/>
<circle cx="1111.4" cy="2059.8" r="5.8" fill="#e8716a"/>
<circle cx="1091.2" cy="2105.5" r="5.8" fill="#e8716a"/>
<circle cx="1132.5" cy="2108" r="5.8" fill="#e8716a"/>
<circle cx="1121.2" cy="2192.8" r="5.8" fill="#e8716a"/>
<circle cx="1103.5" cy="2202.6" r="5.8" fill="#e8716a"/>
<circle cx="1120.7" cy="2219.6" r="5.8" fill="#e8716a"/>
<circle cx="1108.4" cy="2236.3" r="5.8" fill="#e8716a"/>
<circle cx="1125.7" cy="2236.3" r="5.8" fill="#e8716a"/>
<circle cx="1126.1" cy="2258.1" r="5.8" fill="#e8716a"/>
<circle cx="1096.9" cy="2277.8" r="5.8" fill="#e8716a"/>
<circle cx="1095.4" cy="2284.4" r="5.8" fill="#e8716a"/>
<circle cx="1123.2" cy="2274.6" r="5.8" fill="#e8716a"/>
<circle cx="1131.8" cy="2280.2" r="5.8" fill="#e8716a"/>
<circle cx="1085.8" cy="2302.4" r="5.8" fill="#e8716a"/>
<circle cx="1141.6" cy="2301.9" r="5.8" fill="#e8716a"/>
<circle cx="1099.8" cy="2306.1" r="5.8" fill="#e8716a"/>
<circle cx="1097.4" cy="2314.7" r="5.8" fill="#e8716a"/>
<circle cx="1118.3" cy="2312.2" r="5.8" fill="#e8716a"/>
<circle cx="1131.8" cy="2325.7" r="5.8" fill="#e8716a"/>
<circle cx="1091.7" cy="2338" r="5.8" fill="#e8716a"/>
<circle cx="1095.4" cy="2355.2" r="5.8" fill="#e8716a"/>
<circle cx="1128.1" cy="2353.3" r="5.8" fill="#e8716a"/>
<circle cx="1134.3" cy="2367.5" r="5.8" fill="#e8716a"/>
<circle cx="1089.6" cy="2418.6" r="5.8" fill="#e8716a"/>
<circle cx="1096.9" cy="2426.4" r="5.8" fill="#e8716a"/>
<circle cx="1115.3" cy="2425.2" r="5.8" fill="#e8716a"/>
<circle cx="1127.6" cy="2418" r="5.8" fill="#e8716a"/>
<circle cx="1140" cy="2411.3" r="5.8" fill="#e8716a"/>
<circle cx="1093.7" cy="2403.9" r="5.8" fill="#e8716a"/>
<circle cx="1096.32" cy="2410.7" r="5.8" fill="#e8716a"/>
<circle cx="1111.79" cy="2366.39" r="5.8" fill="#e8716a"/>
<circle cx="1117.12" cy="2352" r="5.8" fill="#e8716a"/>
<circle cx="1106.24" cy="2342.56" r="5.8" fill="#e8716a"/>
<circle cx="1109.6" cy="2374.52" r="5.8" fill="#e8716a"/>
<circle cx="1116.24" cy="2402.25" r="5.8" fill="#e8716a"/>
<circle cx="1108.54" cy="2412.09" r="5.8" fill="#e8716a"/>
<circle cx="1114.89" cy="2365.53" r="5.8" fill="#e8716a"/>
<circle cx="1114.9" cy="2395.19" r="5.8" fill="#e8716a"/>
<circle cx="1116.46" cy="2399.08" r="5.8" fill="#e8716a"/>
<circle cx="1108.07" cy="2397.69" r="5.8" fill="#e8716a"/>
<circle cx="1114.35" cy="2393.82" r="5.8" fill="#e8716a"/>
<circle cx="1124.38" cy="2380.72" r="5.8" fill="#e8716a"/>
<circle cx="1110.56" cy="2314.52" r="5.8" fill="#e8716a"/>
<circle cx="1091.52" cy="2399.87" r="5.8" fill="#e8716a"/>
<circle cx="1124.27" cy="2394.21" r="5.8" fill="#e8716a"/>
<circle cx="1099.37" cy="2301.53" r="5.8" fill="#e8716a"/>
<circle cx="1105.97" cy="2366.63" r="5.8" fill="#e8716a"/>
<circle cx="1121.1" cy="2394.68" r="5.8" fill="#e8716a"/>
<circle cx="1118.48" cy="2379.42" r="5.8" fill="#e8716a"/>
<circle cx="1133.86" cy="2395.66" r="5.8" fill="#e8716a"/>
<circle cx="1114.49" cy="2336.73" r="5.8" fill="#e8716a"/>
<circle cx="1125.29" cy="2396.13" r="5.8" fill="#e8716a"/>
<circle cx="1097.98" cy="2372.2" r="5.8" fill="#e8716a"/>
<circle cx="1130.16" cy="2396.31" r="5.8" fill="#e8716a"/>
<circle cx="1108.94" cy="2387.75" r="5.8" fill="#e8716a"/>
<circle cx="1113.48" cy="2379.72" r="5.8" fill="#e8716a"/>
<circle cx="1140.94" cy="2385.39" r="5.8" fill="#e8716a"/>
<circle cx="1100.5" cy="2380.08" r="5.8" fill="#e8716a"/>
<circle cx="1118.76" cy="2356.24" r="5.8" fill="#e8716a"/>
<circle cx="1130.14" cy="2384.88" r="5.8" fill="#e8716a"/>
<circle cx="1122.53" cy="2302.67" r="5.8" fill="#e8716a"/>
<circle cx="1098.28" cy="2333.47" r="5.8" fill="#e8716a"/>
<circle cx="1125.96" cy="2397.7" r="5.8" fill="#e8716a"/>
<circle cx="1109.88" cy="2419.48" r="5.8" fill="#e8716a"/>
<circle cx="1130.07" cy="2344.97" r="5.8" fill="#e8716a"/>
<circle cx="1122.48" cy="2369.16" r="5.8" fill="#e8716a"/>
<circle cx="1121.62" cy="2363.29" r="5.8" fill="#e8716a"/>
<circle cx="1091.9" cy="2419.6" r="5.8" fill="#e8716a"/>
<circle cx="1101.2" cy="2411.37" r="5.8" fill="#e8716a"/>
<circle cx="1110.08" cy="2391.3" r="5.8" fill="#e8716a"/>
<circle cx="1121.71" cy="2369.42" r="5.8" fill="#e8716a"/>
<circle cx="1094.57" cy="2378.2" r="5.8" fill="#e8716a"/>
<circle cx="1118.13" cy="2380.97" r="5.8" fill="#e8716a"/>
<circle cx="1112.41" cy="2347.3" r="5.8" fill="#e8716a"/>
<circle cx="1120.32" cy="2399.6" r="5.8" fill="#e8716a"/>
<circle cx="1097.96" cy="2417.07" r="5.8" fill="#e8716a"/>
<circle cx="1118.43" cy="2407.52" r="5.8" fill="#e8716a"/>
<circle cx="1125.76" cy="2311.01" r="5.8" fill="#e8716a"/>
<circle cx="1117.67" cy="2350.53" r="5.8" fill="#e8716a"/>
<circle cx="1107.08" cy="2377.89" r="5.8" fill="#e8716a"/>
<circle cx="1095.48" cy="2392.22" r="5.8" fill="#e8716a"/>
<circle cx="1126.89" cy="2412.61" r="5.8" fill="#e8716a"/>
<circle cx="1131.58" cy="2366.58" r="5.8" fill="#e8716a"/>
<circle cx="1109.3" cy="2334.66" r="5.8" fill="#e8716a"/>
<circle cx="1113.87" cy="2353.6" r="5.8" fill="#e8716a"/>
<circle cx="1111.46" cy="2352.5" r="5.8" fill="#e8716a"/>
<circle cx="1115.85" cy="2418" r="5.8" fill="#e8716a"/>
<circle cx="1115.68" cy="2403.95" r="5.8" fill="#e8716a"/>
<circle cx="1118.93" cy="2396.38" r="5.8" fill="#e8716a"/>
<circle cx="1134.94" cy="2311.34" r="5.8" fill="#e8716a"/>
<circle cx="1100" cy="2393.84" r="5.8" fill="#e8716a"/>
<circle cx="1124.4" cy="2385.23" r="5.8" fill="#e8716a"/>
<circle cx="1120.19" cy="2373.79" r="5.8" fill="#e8716a"/>
<circle cx="1096.59" cy="2423.33" r="5.8" fill="#e8716a"/>
<circle cx="1117.7" cy="2343.05" r="5.8" fill="#e8716a"/>
<circle cx="1100.63" cy="2416.54" r="5.8" fill="#e8716a"/>
<circle cx="1098.28" cy="2415.34" r="5.8" fill="#e8716a"/>
<circle cx="1110.58" cy="2349.1" r="5.8" fill="#e8716a"/>
<circle cx="1116.92" cy="2350.9" r="5.8" fill="#e8716a"/>
<circle cx="1103.89" cy="2416.53" r="5.8" fill="#e8716a"/>
<circle cx="1102.03" cy="2299.59" r="5.8" fill="#e8716a"/>
<circle cx="1133.33" cy="2408.62" r="5.8" fill="#e8716a"/>
<circle cx="1113.9" cy="2382.96" r="5.8" fill="#e8716a"/>
<circle cx="1086.4" cy="2337.23" r="5.8" fill="#e8716a"/>
<circle cx="1097.46" cy="2373.75" r="5.8" fill="#e8716a"/>
<circle cx="1101.23" cy="2415.02" r="5.8" fill="#e8716a"/>
<circle cx="1111.79" cy="2349.37" r="5.8" fill="#e8716a"/>
<circle cx="1096.58" cy="2421.92" r="5.8" fill="#e8716a"/>
<circle cx="1130.09" cy="2334.66" r="5.8" fill="#e8716a"/>
<circle cx="1275.6" cy="2030.2" r="5.8" fill="#2bb3b3"/>
<circle cx="1257.7" cy="2051.9" r="5.8" fill="#2bb3b3"/>
<circle cx="1266.3" cy="2061.7" r="5.8" fill="#2bb3b3"/>
<circle cx="1262.6" cy="2079.7" r="5.8" fill="#2bb3b3"/>
<circle cx="1232.1" cy="2089" r="5.8" fill="#2bb3b3"/>
<circle cx="1248.1" cy="2220.3" r="5.8" fill="#2bb3b3"/>
<circle cx="1257.2" cy="2232.6" r="5.8" fill="#2bb3b3"/>
<circle cx="1248.6" cy="2222.5" r="5.8" fill="#2bb3b3"/>
<circle cx="1226.5" cy="2259.8" r="5.8" fill="#2bb3b3"/>
<circle cx="1265.8" cy="2255.7" r="5.8" fill="#2bb3b3"/>
<circle cx="1263.4" cy="2272.1" r="5.8" fill="#2bb3b3"/>
<circle cx="1227.7" cy="2280.2" r="5.8" fill="#2bb3b3"/>
<circle cx="1249.3" cy="2295.7" r="5.8" fill="#2bb3b3"/>
<circle cx="1236.3" cy="2308" r="5.8" fill="#2bb3b3"/>
<circle cx="1273.2" cy="2315.4" r="5.8" fill="#2bb3b3"/>
<circle cx="1259.7" cy="2436.4" r="5.8" fill="#2bb3b3"/>
<circle cx="1272" cy="2422.1" r="5.8" fill="#2bb3b3"/>
<circle cx="1241" cy="2425" r="5.8" fill="#2bb3b3"/>
<circle cx="1236" cy="2410" r="5.8" fill="#2bb3b3"/>
<circle cx="1246.24" cy="2411.78" r="5.8" fill="#2bb3b3"/>
<circle cx="1249.85" cy="2413.98" r="5.8" fill="#2bb3b3"/>
<circle cx="1277.34" cy="2346.77" r="5.8" fill="#2bb3b3"/>
<circle cx="1245.28" cy="2342.46" r="5.8" fill="#2bb3b3"/>
<circle cx="1229.08" cy="2399.19" r="5.8" fill="#2bb3b3"/>
<circle cx="1242.62" cy="2385.18" r="5.8" fill="#2bb3b3"/>
<circle cx="1232.06" cy="2374.56" r="5.8" fill="#2bb3b3"/>
<circle cx="1238.12" cy="2398.02" r="5.8" fill="#2bb3b3"/>
<circle cx="1233.35" cy="2414.2" r="5.8" fill="#2bb3b3"/>
<circle cx="1233.37" cy="2410.24" r="5.8" fill="#2bb3b3"/>
<circle cx="1253.57" cy="2362.4" r="5.8" fill="#2bb3b3"/>
<circle cx="1260.08" cy="2416.59" r="5.8" fill="#2bb3b3"/>
<circle cx="1275" cy="2373.03" r="5.8" fill="#2bb3b3"/>
<circle cx="1248.7" cy="2388.89" r="5.8" fill="#2bb3b3"/>
<circle cx="1253.96" cy="2402.47" r="5.8" fill="#2bb3b3"/>
<circle cx="1254.75" cy="2365.36" r="5.8" fill="#2bb3b3"/>
<circle cx="1260.89" cy="2390.66" r="5.8" fill="#2bb3b3"/>
<circle cx="1255.89" cy="2379.81" r="5.8" fill="#2bb3b3"/>
<circle cx="1255.26" cy="2408.34" r="5.8" fill="#2bb3b3"/>
<circle cx="1238.71" cy="2409.76" r="5.8" fill="#2bb3b3"/>
<circle cx="1267.7" cy="2377.46" r="5.8" fill="#2bb3b3"/>
<circle cx="1249.18" cy="2382.69" r="5.8" fill="#2bb3b3"/>
<circle cx="1273.79" cy="2344.34" r="5.8" fill="#2bb3b3"/>
<circle cx="1249.07" cy="2333.08" r="5.8" fill="#2bb3b3"/>
<circle cx="1246.8" cy="2376.52" r="5.8" fill="#2bb3b3"/>
<circle cx="1238.54" cy="2391.58" r="5.8" fill="#2bb3b3"/>
<circle cx="1233.11" cy="2390.52" r="5.8" fill="#2bb3b3"/>
<circle cx="1237.41" cy="2367.96" r="5.8" fill="#2bb3b3"/>
<circle cx="1231.62" cy="2363.52" r="5.8" fill="#2bb3b3"/>
<circle cx="1258.24" cy="2393.97" r="5.8" fill="#2bb3b3"/>
<circle cx="1240.75" cy="2410.66" r="5.8" fill="#2bb3b3"/>
<circle cx="1240.88" cy="2402.28" r="5.8" fill="#2bb3b3"/>
<circle cx="1252.53" cy="2399.51" r="5.8" fill="#2bb3b3"/>
<circle cx="1267.49" cy="2383.67" r="5.8" fill="#2bb3b3"/>
<circle cx="1245.64" cy="2353.13" r="5.8" fill="#2bb3b3"/>
<circle cx="1229.71" cy="2393.61" r="5.8" fill="#2bb3b3"/>
<circle cx="1240.36" cy="2419.97" r="5.8" fill="#2bb3b3"/>
<circle cx="1253.89" cy="2355.74" r="5.8" fill="#2bb3b3"/>
<circle cx="1266.83" cy="2352.67" r="5.8" fill="#2bb3b3"/>
<circle cx="1243.76" cy="2387.98" r="5.8" fill="#2bb3b3"/>
<circle cx="1245.24" cy="2400.85" r="5.8" fill="#2bb3b3"/>
<circle cx="1249.85" cy="2337.25" r="5.8" fill="#2bb3b3"/>
<circle cx="1258.84" cy="2403.72" r="5.8" fill="#2bb3b3"/>
<circle cx="1250.23" cy="2337.49" r="5.8" fill="#2bb3b3"/>
<circle cx="1269.08" cy="2390.6" r="5.8" fill="#2bb3b3"/>
<circle cx="1266.88" cy="2344.61" r="5.8" fill="#2bb3b3"/>
<circle cx="1256.46" cy="2404.31" r="5.8" fill="#2bb3b3"/>
<circle cx="1270.93" cy="2370.31" r="5.8" fill="#2bb3b3"/>
<circle cx="1246.63" cy="2379.54" r="5.8" fill="#2bb3b3"/>
<circle cx="1240.67" cy="2377.98" r="5.8" fill="#2bb3b3"/>
<circle cx="1260.88" cy="2384.83" r="5.8" fill="#2bb3b3"/>
<circle cx="1251.1" cy="2352.25" r="5.8" fill="#2bb3b3"/>
<circle cx="1241.03" cy="2406.7" r="5.8" fill="#2bb3b3"/>
<circle cx="1235.45" cy="2405.59" r="5.8" fill="#2bb3b3"/>
<circle cx="1244.28" cy="2383.47" r="5.8" fill="#2bb3b3"/>
<circle cx="1239" cy="2381.06" r="5.8" fill="#2bb3b3"/>
<circle cx="1249.09" cy="2406.75" r="5.8" fill="#2bb3b3"/>
<circle cx="1270.11" cy="2393.38" r="5.8" fill="#2bb3b3"/>
<circle cx="1255.24" cy="2407.61" r="5.8" fill="#2bb3b3"/>
<circle cx="1231.42" cy="2384.14" r="5.8" fill="#2bb3b3"/>
<circle cx="1254.67" cy="2355.94" r="5.8" fill="#2bb3b3"/>
<circle cx="1261.45" cy="2429.96" r="5.8" fill="#2bb3b3"/>
<circle cx="1239.48" cy="2346.75" r="5.8" fill="#2bb3b3"/>
<circle cx="1254.44" cy="2307.14" r="5.8" fill="#2bb3b3"/>
<circle cx="1260.84" cy="2413.1" r="5.8" fill="#2bb3b3"/>
<circle cx="1230.97" cy="2393.69" r="5.8" fill="#2bb3b3"/>
<circle cx="1255.85" cy="2430.63" r="5.8" fill="#2bb3b3"/>
<circle cx="1262.12" cy="2403.57" r="5.8" fill="#2bb3b3"/>
<circle cx="1243.83" cy="2369.42" r="5.8" fill="#2bb3b3"/>
<circle cx="1279.77" cy="2398.36" r="5.8" fill="#2bb3b3"/>
<circle cx="1263.81" cy="2306.42" r="5.8" fill="#2bb3b3"/>
<circle cx="1236.58" cy="2393.57" r="5.8" fill="#2bb3b3"/>
<circle cx="1278.13" cy="2394.43" r="5.8" fill="#2bb3b3"/>
<circle cx="1247.45" cy="2366.67" r="5.8" fill="#2bb3b3"/>
<circle cx="1254.63" cy="2414.61" r="5.8" fill="#2bb3b3"/>
<circle cx="1252.2" cy="2407" r="5.8" fill="#2bb3b3"/>
<circle cx="1268.81" cy="2355.38" r="5.8" fill="#2bb3b3"/>
<circle cx="1246.63" cy="2378.21" r="5.8" fill="#2bb3b3"/>
<circle cx="1257.9" cy="2375.2" r="5.8" fill="#2bb3b3"/>
<circle cx="1276.34" cy="2418.02" r="5.8" fill="#2bb3b3"/>
<line x1="1114.1" y1="2336.8" x2="1252.8" y2="2342.2" stroke="#1f64a6" stroke-width="7"/>
<circle cx="1114.1" cy="2336.8" r="11.5" fill="#1f64a6"/>
<circle cx="1252.8" cy="2342.2" r="11.5" fill="#1f64a6"/>
<line x1="1114.1" y1="2367" x2="1252.8" y2="2368.3" stroke="#17936a" stroke-width="7"/>
<circle cx="1114.1" cy="2367" r="11.5" fill="#17936a"/>
<circle cx="1252.8" cy="2368.3" r="11.5" fill="#17936a"/>
<line x1="1368.4" y1="1914" x2="1368.4" y2="2463.9" stroke="#000" stroke-width="3.8"/>
<line x1="1367.9" y1="2462.4" x2="1645.4" y2="2462.4" stroke="#000" stroke-width="3.8"/>
<line x1="1361.4" y1="2007.5" x2="1368.4" y2="2007.5" stroke="#000" stroke-width="3.8"/>
<text x="1317.38" y="2015.4" font-size="21.5" fill="#000" stroke="#000" stroke-width="0.54" textLength="35.33" lengthAdjust="spacingAndGlyphs">400</text>
<line x1="1361.4" y1="2118" x2="1368.4" y2="2118" stroke="#000" stroke-width="3.8"/>
<text x="1317.38" y="2125.9" font-size="21.5" fill="#000" stroke="#000" stroke-width="0.54" textLength="35.33" lengthAdjust="spacingAndGlyphs">300</text>
<line x1="1361.4" y1="2228.5" x2="1368.4" y2="2228.5" stroke="#000" stroke-width="3.8"/>
<text x="1317.38" y="2236.4" font-size="21.5" fill="#000" stroke="#000" stroke-width="0.54" textLength="35.33" lengthAdjust="spacingAndGlyphs">200</text>
<line x1="1361.4" y1="2339" x2="1368.4" y2="2339" stroke="#000" stroke-width="3.8"/>
<text x="1317.38" y="2346.9" font-size="21.5" fill="#000" stroke="#000" stroke-width="0.54" textLength="35.33" lengthAdjust="spacingAndGlyphs">100</text>
<line x1="1361.4" y1="2449.5" x2="1368.4" y2="2449.5" stroke="#000" stroke-width="3.8"/>
<text x="1340.93" y="2457.4" font-size="21.5" fill="#000" stroke="#000" stroke-width="0.54" textLength="11.78" lengthAdjust="spacingAndGlyphs">0</text>
<line x1="1451.8" y1="2462.4" x2="1451.8" y2="2470" stroke="#000" stroke-width="3.8"/>
<line x1="1590.9" y1="2462.4" x2="1590.9" y2="2470" stroke="#000" stroke-width="3.8"/>
<text x="1434.7" y="2497.5" font-size="22.5" fill="#000" stroke="#000" stroke-width="0.56" textLength="21" lengthAdjust="spacingAndGlyphs">T1</text>
<text x="1573.5" y="2497.5" font-size="22.5" fill="#000" stroke="#000" stroke-width="0.56" textLength="23.9" lengthAdjust="spacingAndGlyphs">T2</text>
<text x="1474.9" y="1930.3" font-size="24" fill="#000" stroke="#000" stroke-width="0.6" textLength="88.89" lengthAdjust="spacingAndGlyphs">p=0.056</text>
<path d="M1451.3,1953 V1939.2 H1590.7 V1953" fill="none" stroke="#000" stroke-width="2"/>
<rect x="1392.5" y="1974.2" width="21.8" height="6.6" fill="#1f64a6"/>
<circle cx="1392.5" cy="1977.5" r="10.8" fill="#1f64a6"/>
<rect x="1392.5" y="2002.3" width="21.8" height="6.6" fill="#17936a"/>
<circle cx="1392.5" cy="2005.6" r="10.8" fill="#17936a"/>
<text x="1423.7" y="1984" font-size="21" fill="#000" stroke="#000" stroke-width="0.53" textLength="43.01" lengthAdjust="spacingAndGlyphs">27%</text>
<text x="1423.7" y="2011.4" font-size="21" fill="#000" stroke="#000" stroke-width="0.53" textLength="43.01" lengthAdjust="spacingAndGlyphs">45%</text>
<line x1="1451.8" y1="2295.4" x2="1451.8" y2="2145.4" stroke="#e8716a" stroke-width="3.6"/>
<line x1="1451.8" y1="2405" x2="1451.8" y2="2435.5" stroke="#e8716a" stroke-width="3.6"/>
<rect x="1403" y="2295.4" width="98" height="109.6" fill="none" stroke="#e8716a" stroke-width="3.6"/>
<line x1="1403" y1="2371.5" x2="1501" y2="2371.5" stroke="#e8716a" stroke-width="5.1"/>
<line x1="1590.9" y1="2251.6" x2="1590.9" y2="2040.2" stroke="#2bb3b3" stroke-width="3.6"/>
<line x1="1590.9" y1="2396.1" x2="1590.9" y2="2436.6" stroke="#2bb3b3" stroke-width="3.6"/>
<rect x="1542.4" y="2251.6" width="97.2" height="144.5" fill="none" stroke="#2bb3b3" stroke-width="3.6"/>
<line x1="1542.4" y1="2335.5" x2="1639.6" y2="2335.5" stroke="#2bb3b3" stroke-width="5.1"/>
<circle cx="1431.9" cy="2034.4" r="5.8" fill="#e8716a"/>
<circle cx="1442.4" cy="2061.3" r="5.8" fill="#e8716a"/>
<circle cx="1432.3" cy="2144.4" r="5.8" fill="#e8716a"/>
<circle cx="1470.3" cy="2170.2" r="5.8" fill="#e8716a"/>
<circle cx="1449.9" cy="2183.1" r="5.8" fill="#e8716a"/>
<circle cx="1431.1" cy="2199.5" r="5.8" fill="#e8716a"/>
<circle cx="1442.2" cy="2203.5" r="5.8" fill="#e8716a"/>
<circle cx="1434" cy="2218.7" r="5.8" fill="#e8716a"/>
<circle cx="1476.8" cy="2218.7" r="5.8" fill="#e8716a"/>
<circle cx="1472.8" cy="2223.4" r="5.8" fill="#e8716a"/>
<circle cx="1448" cy="2225.7" r="5.8" fill="#e8716a"/>
<circle cx="1424.6" cy="2232.3" r="5.8" fill="#e8716a"/>
<circle cx="1460.4" cy="2239.8" r="5.8" fill="#e8716a"/>
<circle cx="1480.52" cy="2351.86" r="5.8" fill="#e8716a"/>
<circle cx="1424.73" cy="2370.97" r="5.8" fill="#e8716a"/>
<circle cx="1460.54" cy="2341.27" r="5.8" fill="#e8716a"/>
<circle cx="1478.93" cy="2399.84" r="5.8" fill="#e8716a"/>
<circle cx="1439.35" cy="2377.55" r="5.8" fill="#e8716a"/>
<circle cx="1476.88" cy="2397.14" r="5.8" fill="#e8716a"/>
<circle cx="1446.64" cy="2297.5" r="5.8" fill="#e8716a"/>
<circle cx="1431.47" cy="2256.18" r="5.8" fill="#e8716a"/>
<circle cx="1428.29" cy="2382.48" r="5.8" fill="#e8716a"/>
<circle cx="1444.55" cy="2382.11" r="5.8" fill="#e8716a"/>
<circle cx="1456.32" cy="2347.57" r="5.8" fill="#e8716a"/>
<circle cx="1466.34" cy="2359.76" r="5.8" fill="#e8716a"/>
<circle cx="1447.7" cy="2340.99" r="5.8" fill="#e8716a"/>
<circle cx="1440.67" cy="2390.39" r="5.8" fill="#e8716a"/>
<circle cx="1478.11" cy="2411.91" r="5.8" fill="#e8716a"/>
<circle cx="1444.25" cy="2403.43" r="5.8" fill="#e8716a"/>
<circle cx="1430.87" cy="2327.88" r="5.8" fill="#e8716a"/>
<circle cx="1476.43" cy="2407.73" r="5.8" fill="#e8716a"/>
<circle cx="1455.09" cy="2409.91" r="5.8" fill="#e8716a"/>
<circle cx="1454.9" cy="2398.95" r="5.8" fill="#e8716a"/>
<circle cx="1437.05" cy="2397.78" r="5.8" fill="#e8716a"/>
<circle cx="1429.83" cy="2369.66" r="5.8" fill="#e8716a"/>
<circle cx="1435.87" cy="2419.19" r="5.8" fill="#e8716a"/>
<circle cx="1432.56" cy="2417.22" r="5.8" fill="#e8716a"/>
<circle cx="1464.6" cy="2244.61" r="5.8" fill="#e8716a"/>
<circle cx="1461.88" cy="2383.69" r="5.8" fill="#e8716a"/>
<circle cx="1427.27" cy="2389.33" r="5.8" fill="#e8716a"/>
<circle cx="1436.12" cy="2279.29" r="5.8" fill="#e8716a"/>
<circle cx="1474.42" cy="2279.63" r="5.8" fill="#e8716a"/>
<circle cx="1469.59" cy="2410.06" r="5.8" fill="#e8716a"/>
<circle cx="1423.57" cy="2362.75" r="5.8" fill="#e8716a"/>
<circle cx="1430.85" cy="2373.18" r="5.8" fill="#e8716a"/>
<circle cx="1478.92" cy="2388.3" r="5.8" fill="#e8716a"/>
<circle cx="1428.76" cy="2386.82" r="5.8" fill="#e8716a"/>
<circle cx="1480.16" cy="2402.01" r="5.8" fill="#e8716a"/>
<circle cx="1430.19" cy="2412.08" r="5.8" fill="#e8716a"/>
<circle cx="1459.29" cy="2427.31" r="5.8" fill="#e8716a"/>
<circle cx="1441.8" cy="2393.82" r="5.8" fill="#e8716a"/>
<circle cx="1458.63" cy="2322.93" r="5.8" fill="#e8716a"/>
<circle cx="1429.99" cy="2399.22" r="5.8" fill="#e8716a"/>
<circle cx="1471.67" cy="2298.19" r="5.8" fill="#e8716a"/>
<circle cx="1447.8" cy="2416" r="5.8" fill="#e8716a"/>
<circle cx="1472.89" cy="2424.51" r="5.8" fill="#e8716a"/>
<circle cx="1456.2" cy="2422.09" r="5.8" fill="#e8716a"/>
<circle cx="1466.21" cy="2378.77" r="5.8" fill="#e8716a"/>
<circle cx="1423.79" cy="2389.75" r="5.8" fill="#e8716a"/>
<circle cx="1433.94" cy="2350.3" r="5.8" fill="#e8716a"/>
<circle cx="1450.66" cy="2329.4" r="5.8" fill="#e8716a"/>
<circle cx="1450.01" cy="2369.82" r="5.8" fill="#e8716a"/>
<circle cx="1475.19" cy="2371.8" r="5.8" fill="#e8716a"/>
<circle cx="1449.73" cy="2406.66" r="5.8" fill="#e8716a"/>
<circle cx="1427.78" cy="2404.84" r="5.8" fill="#e8716a"/>
<circle cx="1444.28" cy="2345.75" r="5.8" fill="#e8716a"/>
<circle cx="1444.94" cy="2332.12" r="5.8" fill="#e8716a"/>
<circle cx="1437.04" cy="2338.2" r="5.8" fill="#e8716a"/>
<circle cx="1438.45" cy="2391.37" r="5.8" fill="#e8716a"/>
<circle cx="1435.91" cy="2336.91" r="5.8" fill="#e8716a"/>
<circle cx="1450.72" cy="2310.35" r="5.8" fill="#e8716a"/>
<circle cx="1443.94" cy="2334.98" r="5.8" fill="#e8716a"/>
<circle cx="1462.23" cy="2399.47" r="5.8" fill="#e8716a"/>
<circle cx="1428.87" cy="2437.59" r="5.8" fill="#e8716a"/>
<circle cx="1461.91" cy="2337.63" r="5.8" fill="#e8716a"/>
<circle cx="1465.56" cy="2390.92" r="5.8" fill="#e8716a"/>
<circle cx="1423.3" cy="2344.45" r="5.8" fill="#e8716a"/>
<circle cx="1435.63" cy="2323.69" r="5.8" fill="#e8716a"/>
<circle cx="1480.22" cy="2287" r="5.8" fill="#e8716a"/>
<circle cx="1443.66" cy="2332.9" r="5.8" fill="#e8716a"/>
<circle cx="1438.79" cy="2392.9" r="5.8" fill="#e8716a"/>
<circle cx="1465.74" cy="2266.71" r="5.8" fill="#e8716a"/>
<circle cx="1436.23" cy="2377.2" r="5.8" fill="#e8716a"/>
<circle cx="1462.13" cy="2399.68" r="5.8" fill="#e8716a"/>
<circle cx="1447.64" cy="2397.28" r="5.8" fill="#e8716a"/>
<circle cx="1425.45" cy="2362.56" r="5.8" fill="#e8716a"/>
<circle cx="1468.56" cy="2371.03" r="5.8" fill="#e8716a"/>
<circle cx="1454.7" cy="2384.69" r="5.8" fill="#e8716a"/>
<circle cx="1481.18" cy="2358.91" r="5.8" fill="#e8716a"/>
<circle cx="1427.43" cy="2411.44" r="5.8" fill="#e8716a"/>
<circle cx="1426.07" cy="2376.65" r="5.8" fill="#e8716a"/>
<circle cx="1477.94" cy="2281.38" r="5.8" fill="#e8716a"/>
<circle cx="1425.03" cy="2403.7" r="5.8" fill="#e8716a"/>
<circle cx="1445.64" cy="2369.09" r="5.8" fill="#e8716a"/>
<circle cx="1425.41" cy="2346.6" r="5.8" fill="#e8716a"/>
<circle cx="1440.16" cy="2372.13" r="5.8" fill="#e8716a"/>
<circle cx="1424.88" cy="2269.22" r="5.8" fill="#e8716a"/>
<circle cx="1432.56" cy="2318.35" r="5.8" fill="#e8716a"/>
<circle cx="1601.4" cy="1962.2" r="5.8" fill="#2bb3b3"/>
<circle cx="1603.7" cy="2038.4" r="5.8" fill="#2bb3b3"/>
<circle cx="1608.7" cy="2047.3" r="5.8" fill="#2bb3b3"/>
<circle cx="1571.2" cy="2050.8" r="5.8" fill="#2bb3b3"/>
<circle cx="1589.9" cy="2133.2" r="5.8" fill="#2bb3b3"/>
<circle cx="1604.4" cy="2146.1" r="5.8" fill="#2bb3b3"/>
<circle cx="1613.3" cy="2150.8" r="5.8" fill="#2bb3b3"/>
<circle cx="1600.9" cy="2170.2" r="5.8" fill="#2bb3b3"/>
<circle cx="1596.3" cy="2175.4" r="5.8" fill="#2bb3b3"/>
<circle cx="1576.3" cy="2177" r="5.8" fill="#2bb3b3"/>
<circle cx="1614.3" cy="2195.3" r="5.8" fill="#2bb3b3"/>
<circle cx="1602.8" cy="2215.2" r="5.8" fill="#2bb3b3"/>
<circle cx="1610.3" cy="2222.9" r="5.8" fill="#2bb3b3"/>
<circle cx="1584.5" cy="2218.7" r="5.8" fill="#2bb3b3"/>
<circle cx="1581" cy="2225.7" r="5.8" fill="#2bb3b3"/>
<circle cx="1577" cy="2231.6" r="5.8" fill="#2bb3b3"/>
<circle cx="1604.4" cy="2234.6" r="5.8" fill="#2bb3b3"/>
<circle cx="1565.96" cy="2400.16" r="5.8" fill="#2bb3b3"/>
<circle cx="1567.38" cy="2270.87" r="5.8" fill="#2bb3b3"/>
<circle cx="1612.31" cy="2384.59" r="5.8" fill="#2bb3b3"/>
<circle cx="1590.09" cy="2333.26" r="5.8" fill="#2bb3b3"/>
<circle cx="1604.44" cy="2399.94" r="5.8" fill="#2bb3b3"/>
<circle cx="1587.84" cy="2289.71" r="5.8" fill="#2bb3b3"/>
<circle cx="1567.84" cy="2297.1" r="5.8" fill="#2bb3b3"/>
<circle cx="1566.16" cy="2230.52" r="5.8" fill="#2bb3b3"/>
<circle cx="1568.69" cy="2311.36" r="5.8" fill="#2bb3b3"/>
<circle cx="1575.59" cy="2391.24" r="5.8" fill="#2bb3b3"/>
<circle cx="1575.62" cy="2406.24" r="5.8" fill="#2bb3b3"/>
<circle cx="1602.94" cy="2288.7" r="5.8" fill="#2bb3b3"/>
<circle cx="1583.33" cy="2322.46" r="5.8" fill="#2bb3b3"/>
<circle cx="1586.13" cy="2261.01" r="5.8" fill="#2bb3b3"/>
<circle cx="1614.67" cy="2343.05" r="5.8" fill="#2bb3b3"/>
<circle cx="1606.48" cy="2409.13" r="5.8" fill="#2bb3b3"/>
<circle cx="1600.23" cy="2420.65" r="5.8" fill="#2bb3b3"/>
<circle cx="1602.97" cy="2252.54" r="5.8" fill="#2bb3b3"/>
<circle cx="1609.62" cy="2277.98" r="5.8" fill="#2bb3b3"/>
<circle cx="1571.06" cy="2322.65" r="5.8" fill="#2bb3b3"/>
<circle cx="1601.45" cy="2321" r="5.8" fill="#2bb3b3"/>
<circle cx="1594.33" cy="2277.26" r="5.8" fill="#2bb3b3"/>
<circle cx="1582.33" cy="2296.59" r="5.8" fill="#2bb3b3"/>
<circle cx="1597.62" cy="2232.99" r="5.8" fill="#2bb3b3"/>
<circle cx="1586.63" cy="2330.68" r="5.8" fill="#2bb3b3"/>
<circle cx="1595.97" cy="2350.38" r="5.8" fill="#2bb3b3"/>
<circle cx="1566.62" cy="2252.65" r="5.8" fill="#2bb3b3"/>
<circle cx="1571.17" cy="2333.03" r="5.8" fill="#2bb3b3"/>
<circle cx="1608.59" cy="2429.76" r="5.8" fill="#2bb3b3"/>
<circle cx="1579.92" cy="2260.64" r="5.8" fill="#2bb3b3"/>
<circle cx="1586.95" cy="2276.15" r="5.8" fill="#2bb3b3"/>
<circle cx="1592.86" cy="2322.16" r="5.8" fill="#2bb3b3"/>
<circle cx="1567.11" cy="2264.21" r="5.8" fill="#2bb3b3"/>
<circle cx="1564.04" cy="2279.82" r="5.8" fill="#2bb3b3"/>
<circle cx="1595.52" cy="2313.99" r="5.8" fill="#2bb3b3"/>
<circle cx="1613.81" cy="2431.25" r="5.8" fill="#2bb3b3"/>
<circle cx="1572.97" cy="2330.01" r="5.8" fill="#2bb3b3"/>
<circle cx="1582.32" cy="2260.11" r="5.8" fill="#2bb3b3"/>
<circle cx="1575.79" cy="2340.57" r="5.8" fill="#2bb3b3"/>
<circle cx="1611.89" cy="2242.63" r="5.8" fill="#2bb3b3"/>
<circle cx="1584.95" cy="2238.66" r="5.8" fill="#2bb3b3"/>
<circle cx="1563.16" cy="2288.55" r="5.8" fill="#2bb3b3"/>
<circle cx="1566.82" cy="2400.33" r="5.8" fill="#2bb3b3"/>
<circle cx="1608.72" cy="2292.13" r="5.8" fill="#2bb3b3"/>
<circle cx="1601.87" cy="2371.22" r="5.8" fill="#2bb3b3"/>
<circle cx="1608.92" cy="2261.82" r="5.8" fill="#2bb3b3"/>
<circle cx="1596.1" cy="2338.38" r="5.8" fill="#2bb3b3"/>
<circle cx="1562.52" cy="2385.99" r="5.8" fill="#2bb3b3"/>
<circle cx="1583.87" cy="2289.65" r="5.8" fill="#2bb3b3"/>
<circle cx="1619.84" cy="2365.15" r="5.8" fill="#2bb3b3"/>
<circle cx="1602.47" cy="2235.23" r="5.8" fill="#2bb3b3"/>
<circle cx="1593.1" cy="2398.64" r="5.8" fill="#2bb3b3"/>
<circle cx="1601.67" cy="2394.97" r="5.8" fill="#2bb3b3"/>
<circle cx="1566.14" cy="2351.06" r="5.8" fill="#2bb3b3"/>
<circle cx="1595.72" cy="2308.53" r="5.8" fill="#2bb3b3"/>
<circle cx="1616.65" cy="2358.44" r="5.8" fill="#2bb3b3"/>
<circle cx="1603.86" cy="2393.37" r="5.8" fill="#2bb3b3"/>
<circle cx="1618.31" cy="2342" r="5.8" fill="#2bb3b3"/>
<circle cx="1611.2" cy="2256.11" r="5.8" fill="#2bb3b3"/>
<circle cx="1597.56" cy="2415.13" r="5.8" fill="#2bb3b3"/>
<circle cx="1575.25" cy="2428.04" r="5.8" fill="#2bb3b3"/>
<circle cx="1584.5" cy="2268.81" r="5.8" fill="#2bb3b3"/>
<circle cx="1584.31" cy="2360.68" r="5.8" fill="#2bb3b3"/>
<circle cx="1615.51" cy="2407.65" r="5.8" fill="#2bb3b3"/>
<circle cx="1584.1" cy="2421.43" r="5.8" fill="#2bb3b3"/>
<circle cx="1603.82" cy="2376.06" r="5.8" fill="#2bb3b3"/>
<circle cx="1614.11" cy="2406.08" r="5.8" fill="#2bb3b3"/>
<circle cx="1598.23" cy="2363.77" r="5.8" fill="#2bb3b3"/>
<circle cx="1598.87" cy="2302.1" r="5.8" fill="#2bb3b3"/>
<circle cx="1574.38" cy="2266.41" r="5.8" fill="#2bb3b3"/>
<circle cx="1613.62" cy="2420.7" r="5.8" fill="#2bb3b3"/>
<circle cx="1585.91" cy="2390.03" r="5.8" fill="#2bb3b3"/>
<circle cx="1579.04" cy="2428.3" r="5.8" fill="#2bb3b3"/>
<circle cx="1597.22" cy="2371.14" r="5.8" fill="#2bb3b3"/>
<circle cx="1562.73" cy="2300.35" r="5.8" fill="#2bb3b3"/>
<circle cx="1571.93" cy="2408.59" r="5.8" fill="#2bb3b3"/>
<circle cx="1596.57" cy="2378.48" r="5.8" fill="#2bb3b3"/>
<circle cx="1564.58" cy="2382.2" r="5.8" fill="#2bb3b3"/>
<circle cx="1610.98" cy="2415.5" r="5.8" fill="#2bb3b3"/>
<circle cx="1611.92" cy="2288.75" r="5.8" fill="#2bb3b3"/>
<line x1="1451.8" y1="2339" x2="1590.9" y2="2308.5" stroke="#1f64a6" stroke-width="7"/>
<circle cx="1451.8" cy="2339" r="11.5" fill="#1f64a6"/>
<circle cx="1590.9" cy="2308.5" r="11.5" fill="#1f64a6"/>
<line x1="1451.8" y1="2371.8" x2="1590.9" y2="2335.5" stroke="#17936a" stroke-width="7"/>
<circle cx="1451.8" cy="2371.8" r="11.5" fill="#17936a"/>
<circle cx="1590.9" cy="2335.5" r="11.5" fill="#17936a"/>
<line x1="1710.6" y1="1914" x2="1710.6" y2="2463.8" stroke="#000" stroke-width="3.8"/>
<line x1="1709.7" y1="2462.3" x2="1990" y2="2462.3" stroke="#000" stroke-width="3.8"/>
<line x1="1702.5" y1="1961.2" x2="1710.6" y2="1961.2" stroke="#000" stroke-width="3.8"/>
<text x="1658.88" y="1969.1" font-size="21.5" fill="#000" stroke="#000" stroke-width="0.54" textLength="35.33" lengthAdjust="spacingAndGlyphs">200</text>
<line x1="1702.5" y1="2080.48" x2="1710.6" y2="2080.48" stroke="#000" stroke-width="3.8"/>
<text x="1658.88" y="2088.38" font-size="21.5" fill="#000" stroke="#000" stroke-width="0.54" textLength="35.33" lengthAdjust="spacingAndGlyphs">150</text>
<line x1="1702.5" y1="2199.75" x2="1710.6" y2="2199.75" stroke="#000" stroke-width="3.8"/>
<text x="1658.88" y="2207.65" font-size="21.5" fill="#000" stroke="#000" stroke-width="0.54" textLength="35.33" lengthAdjust="spacingAndGlyphs">100</text>
<line x1="1702.5" y1="2319.03" x2="1710.6" y2="2319.03" stroke="#000" stroke-width="3.8"/>
<text x="1670.65" y="2326.93" font-size="21.5" fill="#000" stroke="#000" stroke-width="0.54" textLength="23.56" lengthAdjust="spacingAndGlyphs">50</text>
<line x1="1702.5" y1="2438.3" x2="1710.6" y2="2438.3" stroke="#000" stroke-width="3.8"/>
<text x="1682.43" y="2446.2" font-size="21.5" fill="#000" stroke="#000" stroke-width="0.54" textLength="11.78" lengthAdjust="spacingAndGlyphs">0</text>
<line x1="1793.1" y1="2462.3" x2="1793.1" y2="2470.1" stroke="#000" stroke-width="3.8"/>
<line x1="1932.6" y1="2462.3" x2="1932.6" y2="2470.1" stroke="#000" stroke-width="3.8"/>
<text x="1759.9" y="2497.5" font-size="22.5" fill="#000" stroke="#000" stroke-width="0.56" textLength="47.11" lengthAdjust="spacingAndGlyphs">Early</text>
<text x="1904.3" y="2497.5" font-size="22.5" fill="#000" stroke="#000" stroke-width="0.56" textLength="39.01" lengthAdjust="spacingAndGlyphs">Late</text>
<text x="1816.2" y="2161.7" font-size="24" fill="#000" stroke="#000" stroke-width="0.6" textLength="86.09" lengthAdjust="spacingAndGlyphs">p=0.0061</text>
<path d="M1793.1,2178.7 V2172 H1932.6 V2178.7" fill="none" stroke="#000" stroke-width="2"/>
<rect x="1742.9" y="1971.5" width="21.5" height="6.6" fill="#1f64a6"/>
<circle cx="1742.9" cy="1974.8" r="10.8" fill="#1f64a6"/>
<rect x="1742.9" y="1999.8" width="21.5" height="6.6" fill="#17936a"/>
<circle cx="1742.9" cy="2003.1" r="10.8" fill="#17936a"/>
<text x="1774.2" y="1981.6" font-size="21" fill="#000" stroke="#000" stroke-width="0.53" textLength="55.29" lengthAdjust="spacingAndGlyphs">259%</text>
<text x="1774.2" y="2009.3" font-size="21" fill="#000" stroke="#000" stroke-width="0.53" textLength="55.29" lengthAdjust="spacingAndGlyphs">148%</text>
<rect x="1743.5" y="2391.6" width="99.8" height="10.2" fill="#e09a3e" rx="2"/>
<line x1="1746" y1="2397.7" x2="1841" y2="2397.7" stroke="#f3d6a8" stroke-width="1"/>
<circle cx="1786.5" cy="2416.2" r="5.2" fill="#e09a3e"/>
<circle cx="1817" cy="2390.5" r="5.2" fill="#e09a3e"/>
<line x1="1932.6" y1="2258.4" x2="1932.6" y2="2212.7" stroke="#5e2147" stroke-width="3"/>
<rect x="1882.8" y="2258.4" width="99" height="78.5" fill="none" stroke="#5e2147" stroke-width="3"/>
<rect x="1882.8" y="2325.5" width="99" height="6" fill="#5e2147"/>
<circle cx="1922.8" cy="2211.9" r="5.2" fill="#5e2147"/>
<circle cx="1921.8" cy="2227" r="5.2" fill="#5e2147"/>
<circle cx="1948.4" cy="2290.2" r="5.2" fill="#5e2147"/>
<circle cx="1917.7" cy="2339.3" r="5.2" fill="#5e2147"/>
<circle cx="1928.9" cy="2347.1" r="5.2" fill="#5e2147"/>
<line x1="1793.1" y1="2399.3" x2="1932.6" y2="2296.3" stroke="#1f64a6" stroke-width="7"/>
<circle cx="1793.1" cy="2399.3" r="12" fill="#1f64a6"/>
<circle cx="1932.6" cy="2296.3" r="12" fill="#1f64a6"/>
<line x1="1793.1" y1="2393.5" x2="1932.6" y2="2328.7" stroke="#17936a" stroke-width="7"/>
<circle cx="1793.1" cy="2393.5" r="12" fill="#17936a"/>
<circle cx="1932.6" cy="2328.7" r="12" fill="#17936a"/>
</svg></body></html>
